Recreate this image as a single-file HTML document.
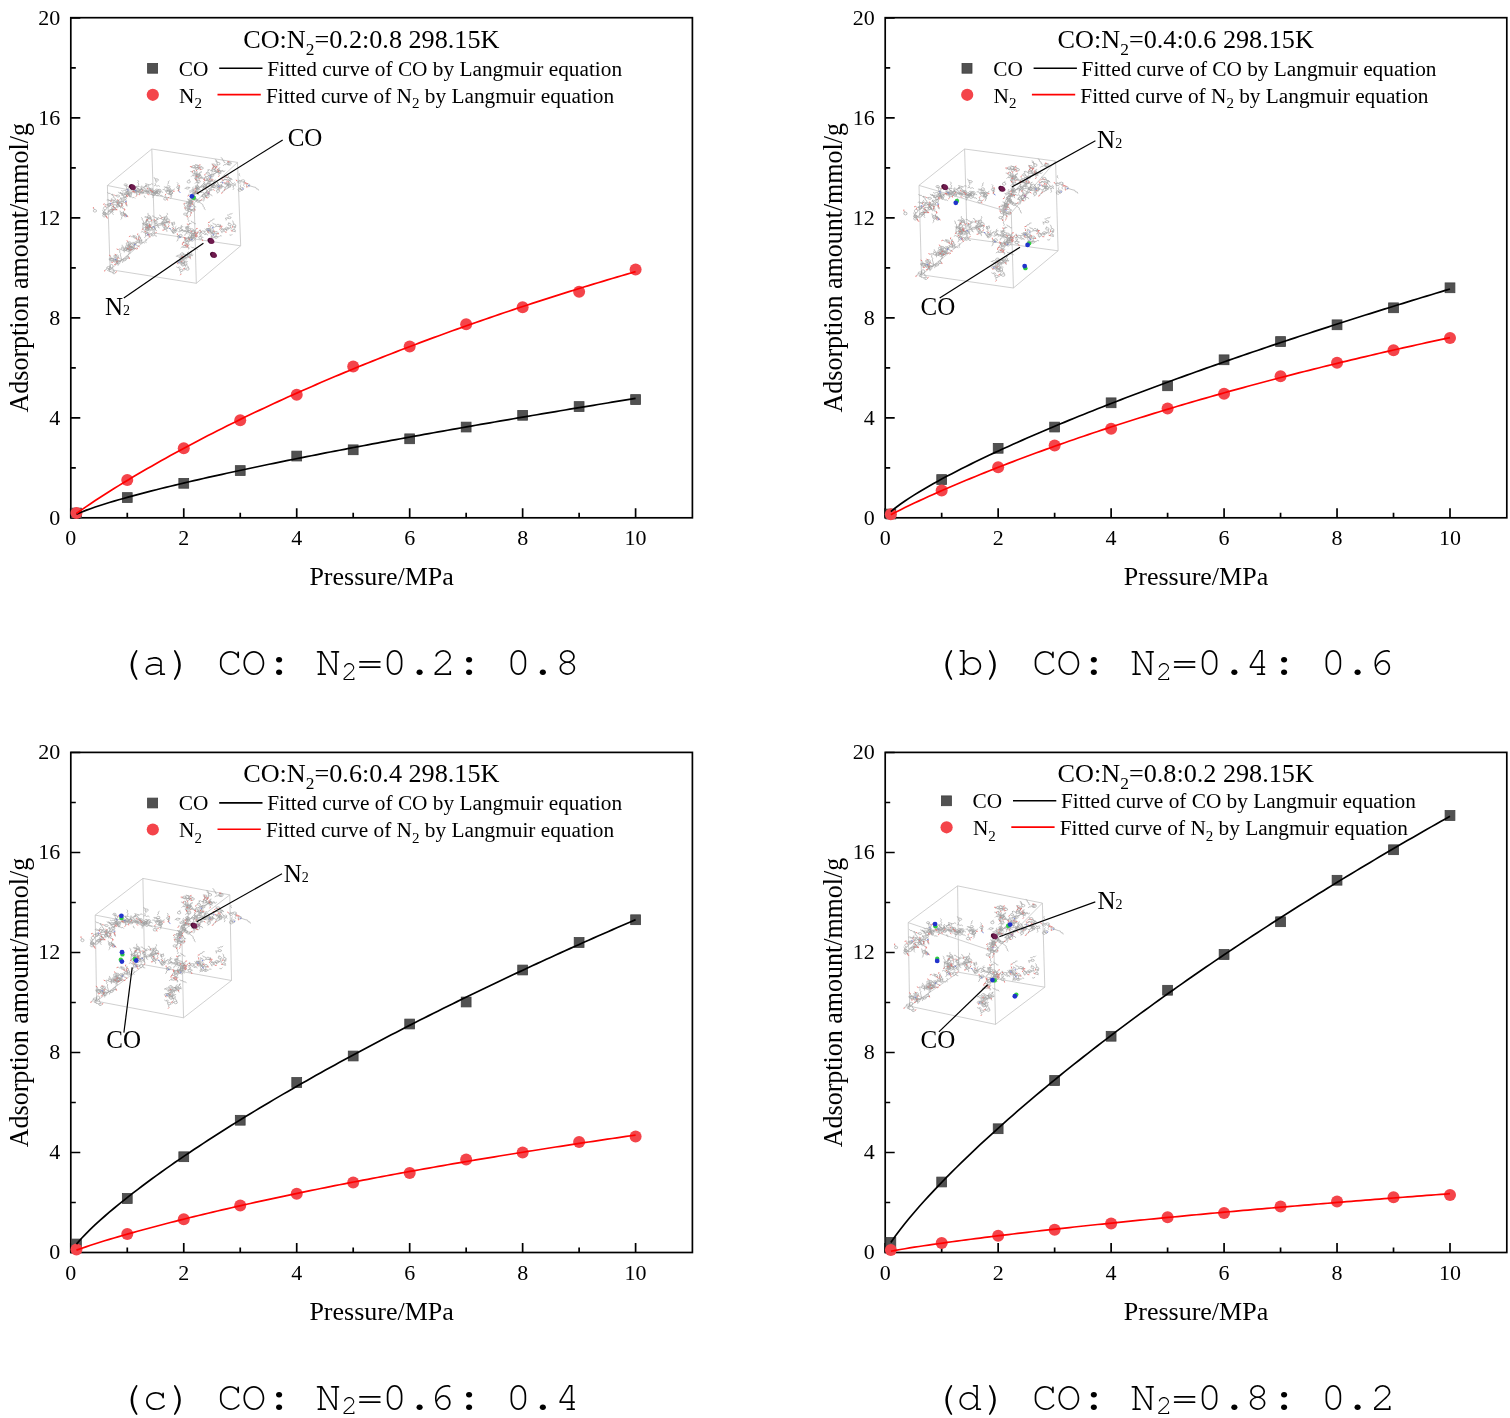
<!DOCTYPE html>
<html><head><meta charset="utf-8"><style>
html,body{margin:0;padding:0;background:#fff;}
svg{display:block;}
</style></head><body>
<svg width="1510" height="1418" viewBox="0 0 1510 1418">
<rect width="1510" height="1418" fill="#fff"/>
<defs><g id="mol" fill="none"><path d="M96.4 211.5 94.9 212.2 93.4 211.5 93.4 210.1 94.9 209.4 96.4 210.1 96.4 211.5M94.9 209.4 93.4 208.6M106 209.7 104.2 209.7 103.3 208.3 104.2 206.8 105.9 206.7 106.8 208.2 106 209.7M106.8 208.2 107.7 206.8 109.4 206.8 110.3 205.4M104.2 209.7 105.1 211.1M106 215.8 105 217 103.3 216.8 102.6 215.5 103.6 214.3 105.3 214.4 106 215.8M103.6 214.3 104.6 213 103.8 211.6 104.8 210.3M105.8 214.1 104.1 214.4 102.8 213.7 103.1 212.6 104.8 212.2 106.1 213 105.8 214.1M103.1 212.6 103.5 211 102.1 210M106.1 214.4 104.7 215.3 103.1 214.6 102.9 213 104.4 212 105.9 212.7 106.1 214.4M104.7 215.3 106.3 216 106.4 217.6M104.4 213.3 104.5 213.7M108.6 214.3 110.2 213.7 110.4 212.1 112.1 211.5 112.3 210M104.5 213.7 108.6 214.3M114.9 209.7 113.2 209.8 112.2 208.9 112.8 207.9 114.6 207.7 115.6 208.6 114.9 209.7M114.6 207.7 113.5 206.5M109.8 210 108.3 210.8 108.4 212.4 106.9 213.2 107 214.8M113.9 208.8 109.8 210M112.1 210.9 113.1 212.2 112.5 213.6 113.6 214.9M109.8 210 112.1 210.9M110.7 204.6 109.7 205.4 108 205.3 107.2 204.4 108.2 203.6 110 203.7 110.7 204.6M110.7 204.6 111.5 206 113.2 206.1M110.2 205.9 108.6 206.2 107.3 205.5 107.7 204.5 109.4 204.2 110.6 204.9 110.2 205.9M107.7 204.5 106 205 104.7 203.9M112.9 210.9 111.7 211.9 110 211.6 109.4 210.5 110.5 209.5 112.3 209.7 112.9 210.9M111.7 211.9 110.6 213.1M112.9 210.9 114 209.7 115.7 210 116.8 208.8M110 211.6 108.3 211.3M109.8 203 110.8 204.3 110 205.7M114 203 112.2 202.9 111.3 204.2M117.9 200.7 118.3 202.3M115.3 200 115.3 198.5 113.8 197.7 113.7 196.1 112.2 195.4 112.2 193.8M117.9 200.7 115.3 200M113.9 201.9 112.2 202.4 110.9 201.4 111.3 200.1 113 199.7 114.3 200.6 113.9 201.9M114.3 200.6 115.6 201.7M111.3 200.1 109.6 200.6 108.3 199.6 106.7 200.1M110.9 201.4 109.6 200.4 108 200.9M115.3 200 112.6 201M112.6 197.7 111.4 198.9 112 200.4M114.9 208.2 113.9 209.7 112.2 209.6 111.4 208 112.4 206.6 114.1 206.7 114.9 208.2M114.9 208.2 115.7 209.7M115.8 201 116.8 202.3 118.6 202.1 119.6 203.3 121.3 203.2M119.2 196.8 117.5 197 116.3 196.3 116.9 195.3 118.6 195.1 119.8 195.8 119.2 196.8M116.9 195.3 115.2 195.7M126.4 202.1 124.8 202.7 123.4 201.8 123.6 200.3 125.3 199.8 126.6 200.7 126.4 202.1M124.8 202.7 126.2 203.7 125.9 205.2 127.3 206.2M121.9 194.6 121 193.2 119.3 193.2 118.4 191.8M126.6 196.2 125.4 197.5 123.7 197.1 123.1 195.5 124.3 194.3 126 194.7 126.6 196.2M123.1 195.5 122.6 194.1 120.9 193.7 120.3 192.2M125.3 192.5 127 192.9 127.4 194.5 129.1 194.9 129.5 196.5 131.1 196.9M131.4 193 130.4 194.1 128.6 194 127.9 192.8 128.9 191.7 130.6 191.9 131.4 193M127.9 192.8 126.9 194.1M128.6 194 126.9 193.9M130.6 191.9 132.4 192M128.6 193 128.3 194.5 126.7 195.1 126.4 196.7 124.8 197.2 124.5 198.8M129.6 192.9 128.6 193M124.8 195 123 195.2 122 194.2 122.7 193.1 124.5 193 125.5 194 124.8 195M122.7 193.1 121 193.3 120 192M124.5 193 126.2 192.9 126.9 191.4 128.7 191.3M123 195.2 121.3 195.3M131.3 195 129.6 195.3 128.4 194.2 129 192.9 130.7 192.6 131.9 193.6 131.3 195M131.3 195 130.8 196.5M129.6 195.3 127.9 195.6M123.7 194.1 130.2 193.9M136.6 190.4 135.6 191.4 133.9 191.3 133.2 190.1 134.2 189 135.9 189.2 136.6 190.4M130.2 193.9 134.9 190.2M128.8 191.2 127.3 191.9 125.8 191.2 125.8 189.8 127.3 189 128.8 189.8 128.8 191.2M127.3 189 128.8 188.3 128.8 186.7M125.8 191.2 124.3 190.4 122.8 191.2 121.3 190.4M127.3 191.9 128.8 192.7 128.9 194.2 130.4 195M129.5 196.9 131.2 196.6 132.4 197.7 134.1 197.4 135.2 198.6M127.3 190.5 129.5 196.9M138.6 192 137.4 193.1 135.7 192.7 135.2 191.3 136.4 190.2 138.1 190.5 138.6 192M135.2 191.3 134.7 189.7 133 189.4M138.6 192 139.8 190.9 141.5 191.3M127.1 189.6 127.6 191.1 126.5 192.3 127.1 193.8 126 195M127.3 185 126.1 185.8 124.4 185.6 123.9 184.6 125 183.8 126.7 184 127.3 185M126.1 185.8 127.9 186.1 128.4 187.6M127.1 189.6 125.6 184.8M136.4 192.2 135 192.9 133.4 192.5 133.1 191.3 134.5 190.6 136.1 191 136.4 192.2M136.4 192.2 137.7 191.2M136.1 191 137.7 191.6 139.1 190.6M141 190.5 139.3 190.2 138.8 188.6 137.1 188.3 136.6 186.8 134.9 186.4M139.3 186.7 138.2 185.4 138.9 184 137.9 182.7 138.6 181.3 137.5 180M136.3 186.3 136.4 187.8 138 188.5 138.1 190.1 139.7 190.8M139.3 186.7 136.3 186.3M135 188.1 133.3 188.1 132.4 186.8 130.6 186.8 129.8 185.4M142.9 190 141.4 189.1 141.6 187.6M142.8 190.9 141.8 191.9 140.1 191.8 139.4 190.7 140.4 189.8 142.1 189.9 142.8 190.9M140.4 189.8 141.4 188.5 140.7 187 141.7 185.8M142.1 189.9 141.4 188.4 142.4 187.2 141.7 185.7M140.2 189 142 189 142.9 190.3 144.7 190.2 145.6 191.6 147.4 191.5M139.8 190.7 138.5 191.6 136.8 191.2 136.5 189.8 137.8 188.9 139.5 189.4 139.8 190.7M139.5 189.4 141.1 189.9 142.5 188.8 144.1 189.4M136.8 191.2 135.2 190.7 133.9 191.7M139.5 193.6 138.2 194.5 136.5 194.1 136.2 192.8 137.5 192 139.2 192.4 139.5 193.6M139.2 192.4 140.8 192.9M136.5 194.1 136.9 195.6M148.3 192.5 146.6 192.6 145.5 191.7 146.1 190.5 147.8 190.3 148.9 191.3 148.3 192.5M148.3 192.5 147.6 193.9M143.3 187.3 145 187.1 145.7 185.6 147.4 185.5M147.2 191.5 143.3 187.3M148.8 185.9 147.6 187 145.9 186.6 145.5 185.1 146.7 184.1 148.4 184.5 148.8 185.9M148.4 184.5 150.1 184.9 151.4 183.8 153.1 184.3M146.7 184.1 145.1 183.6M147.6 187 149.3 187.4 149.7 189 151.4 189.4M143.3 187.3 147.2 185.5M143.5 193.3 141.9 193.8 140.5 193.2 140.5 192.2 142.1 191.7 143.6 192.3 143.5 193.3M143.6 192.3 143.7 190.7M144.3 195.5 144.4 197 145.9 197.8M146.2 191.9 144.5 191.5 143.3 192.7 141.6 192.3 140.4 193.5M148.9 191.8 149 193.4 150.5 194.2M146.2 191.9 148.9 191.8M152.6 189.9 150.9 190.3 149.6 189.6 149.9 188.6 151.5 188.3 152.9 188.9 152.6 189.9M149.9 188.6 148.2 189.2M149.6 189.6 148.2 188.6 146.6 189.2 145.3 188.2M148.9 191.8 151.2 189.3M159.9 186.6 158.5 185.6 156.9 186.2 155.5 185.3 153.9 185.9M155.5 194.7 154.2 195.5 152.5 195 152.3 193.8 153.7 193 155.3 193.5 155.5 194.7M154.2 195.5 152.8 196.5 153 198M153.7 193 152.1 192.4 151.8 190.8M160.1 192.4 158.5 193.2 157 192.2 157.2 190.5 158.7 189.7 160.2 190.7 160.1 192.4M157.2 190.5 155.6 191.2 154.1 190.3 152.6 191M160.1 192.4 161.6 191.7 163.1 192.6M157 192.2 156.9 193.8M153.9 194.3 158.6 191.5M155.9 193.5 155.2 192 153.5 191.8 152.8 190.3 151.1 190.1 150.4 188.7M151.3 192 149.7 192.4 148.3 191.8 148.5 190.8 150.1 190.4 151.5 191 151.3 192M148.3 191.8 146.9 190.9M151.3 192 152.9 191.4 154.3 192.4 155.9 191.8M148.5 190.8 146.9 191.4 145.5 190.5 143.9 191.1M155.9 193.5 149.9 191.4M158.6 180.2 157.5 181 155.7 180.8 155.1 179.8 156.3 178.9 158 179.1 158.6 180.2M156.3 178.9 154.6 178.6 154 177.1M155.7 180.8 156.3 182.3 155.2 183.5 155.8 185M160.6 191.3 158.9 191.5 157.7 190.6 158.3 189.5 160 189.2 161.2 190.1 160.6 191.3M158.9 191.5 160.1 192.7 159.5 194.2M154 195.2 152.2 195.4 151.2 194 151.9 192.4 153.7 192.3 154.7 193.7 154 195.2M153.7 192.3 155.4 192.1 156.2 190.7M154.7 193.7 155.4 192.2 157.2 192.1M157.7 191.7 155.9 191.7 155 190.4 155.9 189.1 157.6 189.1 158.5 190.4 157.7 191.7M157.7 191.7 156.8 193 157.7 194.4M153 193.8 156.8 190.4M158.4 195.6 156.6 195.8 155.6 194.5 156.3 193 158.1 192.9 159.1 194.2 158.4 195.6M159.1 194.2 160.1 195.5 161.9 195.3 162.9 196.6M156.8 190.4 157.4 194.3M167 199.1 166 200.1 164.2 199.9 163.6 198.7 164.6 197.8 166.4 197.9 167 199.1M166.4 197.9 168.1 198.1M164.6 197.8 165.7 196.5 165.1 195.1M169 193.6 167.3 193.7 166.3 192.2 167.1 190.7 168.8 190.6 169.8 192 169 193.6M166.3 192.2 165.3 190.9M167.1 190.7 165.3 190.8 164.4 189.5 162.6 189.6M156.4 193.6 157.1 192.1 156.1 190.8M167.2 184.3 168.6 183.3 168.2 181.7 169.6 180.7M170.2 187.1 169 188 167.3 187.8 166.7 186.6 167.9 185.7 169.6 185.9 170.2 187.1M167.3 187.8 165.6 187.5 164.4 188.7M172.3 193.6 170.6 194.1 169.3 193.1 169.6 191.6 171.3 191.1 172.6 192.1 172.3 193.6M170.6 194.1 171.9 195.1 171.6 196.6M172.5 193.2 171.5 194.6 169.8 194.4 169 192.9 170 191.5 171.7 191.6 172.5 193.2M170 191.5 168.2 191.4 167.5 190 165.7 189.9M171.5 194.6 170.5 195.9 171.3 197.3 170.3 198.6M169 189.5 167.5 190.3 167.6 191.9M170.7 193 169 189.5M168.7 194.6 170.5 194.5 171.3 193.1 173 193M171.2 191.6 171.9 190.2 173.7 190.1 174.4 188.6M168.7 194.6 171.2 191.6M170.2 190.1 168.5 190.2 167.5 189.2 168.2 188.1 170 188 171 189 170.2 190.1M170.2 190.1 172 190 172.9 191.3M168.2 188.1 166.5 188.2 165.5 186.9 163.8 187M171.2 191.6 169.2 189.1M179.2 188.2 177.5 188.4 176.4 187.5 177 186.4 178.7 186.2 179.8 187.1 179.2 188.2M177.5 188.4 178.7 189.6M178.7 186.2 177.5 185 178.1 183.5 177 182.3M179.1 191.8 178.3 190.4 179.4 189.1 178.6 187.6 179.6 186.3M178.1 187.3 179.1 191.8M119.8 203.1 118.7 204 117 203.8 116.3 202.8 117.4 201.8 119.2 202 119.8 203.1M119.8 203.1 120.9 201.8 122.6 202 123.7 200.8M119.2 202 118.5 200.5 119.6 199.3M113.9 195.7 112.9 194.4 111.2 194.5 110.1 193.3 108.4 193.4 107.4 192.1M116.7 206.3 115.8 207.7 114.1 207.6 113.2 206.2 114.1 204.7 115.9 204.8 116.7 206.3M115.9 204.8 117.6 204.8 118.6 203.5M114.1 204.7 112.4 204.7M122.8 203.6 121.1 203.7 120 202.6 120.8 201.3 122.5 201.2 123.5 202.3 122.8 203.6M120.8 201.3 121.5 199.9 120.5 198.6 121.2 197.2M121.1 203.7 122.1 205M122.8 203.6 122.1 205 123.1 206.3 122.4 207.7M121.6 207 122.5 208.4 124.2 208.4M121.8 202.4 121.6 207M116.9 204.1 118.5 204.7 118.8 206.2 120.4 206.8 120.6 208.4M121.6 207 116.9 204.1M120.4 198.8 122.1 199.2 122.6 200.7M116.3 201.5 115.2 202.7 113.4 202.4 112.3 203.5M126.3 199.1 124.9 200 123.3 199.3 123.1 197.7 124.6 196.7 126.1 197.4 126.3 199.1M126.1 197.4 126 195.9M123.1 197.7 121.7 198.6 120.1 197.9M119.7 203.1 118 203.7 116.7 202.6 117 201 118.6 200.4 120 201.5 119.7 203.1M118 203.7 119.4 204.7 119.1 206.2 120.4 207.2M116.7 202.6 115.3 201.6M119.8 206.4 118.2 206.9 116.7 206.3 116.9 205.2 118.4 204.7 119.9 205.3 119.8 206.4M118.2 206.9 116.6 207.6M118.3 202 118.3 205.8M127 206.1 127 204.5M124.1 214.7 122.8 215.8 121.1 215.3 120.7 213.7 122 212.6 123.7 213.1 124.1 214.7M123.7 213.1 123.3 211.6 124.6 210.5M122 212.6 120.4 212.2 120 210.6M122.8 215.8 121.5 216.9 121.9 218.4 120.6 219.5M127.2 215.7 126.3 216.9 124.5 216.8 123.7 215.6 124.6 214.4 126.4 214.4 127.2 215.7M124.6 214.4 125.6 213M123.7 215.6 122.9 214.2 121.1 214.1 120.3 212.7M127.3 216.1 125.7 215.6 125.4 214 123.7 213.5M125.5 215.6 127.3 216.1M123.3 212.2 123.3 213.8 124.8 214.6M127.3 216.1 123.3 212.2M186.8 214.5 185.5 215.2 183.8 214.8 183.6 213.7 185 213 186.6 213.4 186.8 214.5M185.5 215.2 187.1 215.8M187.9 215 187.2 216.5 188.3 217.7 187.7 219.2 188.8 220.4 188.2 221.9M183.6 203.7 184.8 204.9 184.3 206.4M195.3 210.2 194.2 211.3 192.5 211.1 191.9 209.8 193 208.7 194.7 208.9 195.3 210.2M194.7 208.9 194.1 207.4 195.2 206.2M188.5 209.4 187.4 210.4 185.6 210.2 185.1 208.8 186.2 207.8 187.9 208 188.5 209.4M193.6 210 186.8 209.1M192.1 210.2 190.9 211.3 191.4 212.9 190.2 214 190.7 215.5M190.9 210.5 189.5 211.5 187.9 210.8 187.7 209.1 189.1 208.1 190.7 208.8 190.9 210.5M189.5 211.5 191.1 212.1M187.9 210.8 188.1 212.4 186.7 213.3M190.9 210.5 192.3 209.6 193.9 210.2M192.1 210.2 189.3 209.8M189.7 206.5 189 205.1 187.3 204.9M189.3 209.8 189.7 206.5M188.6 207.6 187.1 208.4 185.6 207.8 185.4 206.5 186.9 205.7 188.4 206.3 188.6 207.6M186.9 205.7 188.3 204.8 188.2 203.2 189.6 202.3M189.7 206.5 187 207.1M192.4 202.1 191.3 203.2 189.6 203 188.9 201.7 190 200.6 191.8 200.8 192.4 202.1M191.3 203.2 190.2 204.4 190.9 205.9M187 207.1 190.7 201.9M193.6 196.9 191.9 197.5 190.6 196.4 190.9 194.8 192.5 194.2 193.9 195.3 193.6 196.9M192.5 194.2 194.2 193.7 194.5 192.1 196.1 191.6M189.5 203.5 188.1 204.1 186.5 203.7 186.3 202.7 187.7 202.1 189.3 202.5 189.5 203.5M186.5 203.7 184.9 203.1M189.3 202.5 189.1 201 190.5 200M193.8 205.3 192.7 206.4 191 206.2 190.3 204.8 191.4 203.7 193.2 204 193.8 205.3M191.4 203.7 189.7 203.5 189.1 202M193.8 205.3 194.4 206.7 196.2 207M187.9 203.1 192.1 205.1M192.5 202.4 191.1 203.1 189.4 202.6 189.2 201.5 190.6 200.7 192.2 201.2 192.5 202.4M191.1 203.1 189.7 204.1 189.9 205.6 188.5 206.6M189.2 201.5 187.8 202.4 186.2 201.8M190.6 200.7 189 200.1M189.1 207.6 189.4 209.2 188.2 210.2 188.5 211.8 187.2 212.8 187.6 214.4M189.9 199.9 191.2 200.9 191 202.4 192.4 203.4M191.2 203 190.8 201.5 189.2 201 188.8 199.5 187.1 199M189.6 192.3 191.3 192.2 192.1 190.8 193.9 190.7M192.1 202.9 190.8 203.7 189.1 203.4 188.7 202.3 189.9 201.5 191.6 201.7 192.1 202.9M191.6 201.7 191.1 200.2 192.3 199.1 191.9 197.6M190.8 203.7 192.5 204.1M191.7 194.6 191.7 196.2 190.2 197 190.3 198.6 188.8 199.4 188.8 201M193.8 200.1 192.2 200.5 190.8 199.8 191.2 198.7 192.8 198.3 194.2 199 193.8 200.1M192.8 198.3 194.5 197.8M191.7 194.6 192.5 199.4M194.1 195.7 195.3 196.8 194.9 198.4 196.1 199.5M194.3 195.5 192.7 196 191.3 195.2 191.6 193.9 193.3 193.5 194.6 194.3 194.3 195.5M192.7 196 194 197 193.7 198.5 195 199.5M194.3 195.5 194 197.1M194.6 194.3 194.9 192.7 196.6 192.2 196.9 190.6M195.2 193.2 193.5 193.4 192.4 192.2 193 190.9 194.8 190.7 195.9 191.8 195.2 193.2M193 190.9 193.7 189.4 192.6 188.2 193.3 186.7M189.2 188.3 188 189.1 186.3 188.9 185.7 187.9 186.9 187.1 188.6 187.3 189.2 188.3M185.7 187.9 184.6 189.1M188.6 187.3 190.3 187.6M196 193.7 194.8 194.4 193.1 194.1 192.7 193.1 193.9 192.4 195.6 192.7 196 193.7M196 193.7 197.3 192.6M199.4 187.9 198 188.8 196.4 188.3 196.1 186.9 197.5 186.1 199.1 186.6 199.4 187.9M199.4 187.9 200.8 187 202.4 187.5M198 188.8 196.7 189.8M196.4 188.3 196.7 189.9 195.3 190.9M194.3 193.4 197.8 187.4M197.2 188.8 198.3 190 197.6 191.5 198.7 192.7 198.1 194.2 199.1 195.4M197.8 187.4 197.2 188.8M194.2 188.1 193.4 189.5 191.7 189.6 190.8 191 189.1 191M197.2 188.8 194.2 188.1M200.4 181.9 199.3 182.9 197.6 182.7 196.9 181.6 198 180.6 199.8 180.8 200.4 181.9M197.6 182.7 195.8 182.5 194.8 183.7M198 180.6 196.3 180.4 195.6 178.9M199.8 180.8 199.1 179.3M198.5 186.7 197.1 187.4 195.5 187 195.2 185.9 196.6 185.2 198.2 185.6 198.5 186.7M195.5 187 195.8 188.5M197.1 187.4 198.7 187.9 199 189.5 200.7 190M198.7 181.8 196.8 186.3M198.4 189.8 196.8 190.1 195.5 189.3 196 188.3 197.7 188.1 198.9 188.8 198.4 189.8M196 188.3 196.4 186.8M198.9 188.8 199.4 187.3 201.1 186.9 201.5 185.4M196.8 186.3 197.2 189.1M201.7 176.7 200.8 178 199 178 198.2 176.6 199.1 175.3 200.8 175.3 201.7 176.7M198.2 176.6 197.3 175.3 195.6 175.3 194.7 173.9M201.7 176.7 202.5 178 204.3 178.1 205.1 179.4M200.8 178 202.5 178 203.4 179.4M190.3 182.3 189 183.1 187.3 182.6 187.1 181.2 188.5 180.3 190.1 180.9 190.3 182.3M188.5 180.3 189.9 179.4M198.1 182 196.5 181.3 196.4 179.7 194.8 179 194.7 177.5M205.3 185.9 204.1 187 202.4 186.6 201.9 185.1 203.1 183.9 204.8 184.3 205.3 185.9M204.1 187 202.8 188.2 203.3 189.7 202.1 190.8M205.3 185.9 206.5 184.7M203.1 183.9 204.3 182.8 203.8 181.3M199 175.8 197.4 176.1 196 175.5 196.3 174.5 197.9 174.1 199.3 174.8 199 175.8M196.3 174.5 196.5 172.9M199.3 174.8 199.5 173.2 201.2 172.6 201.4 171.1M198.3 178.9 196.7 179.2 195.3 178.7 195.5 177.7 197.1 177.3 198.5 177.9 198.3 178.9M197.1 177.3 195.7 176.3M195.5 177.7 195.7 176.1M198.5 177.9 198.7 176.3 200.3 175.7 200.6 174.1M194.4 167.8 192.6 167.9 191.7 166.6M197.9 175 198.2 173.4 196.8 172.4 197.1 170.9M196.7 174.9 195.6 176 193.8 175.8 193.2 174.5 194.3 173.3 196 173.5 196.7 174.9M193.8 175.8 192.1 175.6 191 176.8M194.3 173.3 192.6 173.1 191.9 171.6 190.2 171.4M197.9 175 194.9 174.7M194.4 170.3 192.8 170.8M194.9 174.7 194.4 170.3M199.9 176 198.5 176.9 196.9 176.4 196.6 175 197.9 174.1 199.6 174.6 199.9 176M196.9 176.4 197.2 178 195.8 179M199.6 174.6 199.2 173 200.6 172M199.9 176 200.2 177.5 201.8 178.1M194.4 170.3 198.2 175.5M194.8 167.3 193 167.4 192 166.5 192.7 165.6 194.5 165.5 195.5 166.3 194.8 167.3M194.8 167.3 194.1 168.7M192 166.5 191.3 168M195.3 164 196.4 165.3 198.1 165 199.2 166.3 200.9 166 202 167.3M203 168.9 201.4 169.3 200 168.5 200.3 167.4 201.9 167 203.3 167.7 203 168.9M200 168.5 198.7 167.5 197 168.1 195.7 167.1M197.9 167 196.5 168 194.9 167.4 194.6 165.8 196 164.8 197.6 165.4 197.9 167M197.9 167 198.1 168.5 199.7 169.1M198.4 169.2 196.9 169.7 195.4 169.1 195.5 168 197.1 167.5 198.6 168.1 198.4 169.2M197.1 167.5 198.7 166.8 198.8 165.3M197.3 200.5 195.8 201.1 194.3 200.4 194.4 199.1 196 198.5 197.4 199.2 197.3 200.5M196 198.5 194.5 197.6M189 193.7 189 195.3M199.9 201.4 198.8 202.3 197.1 202.2 196.4 201.1 197.4 200.1 199.2 200.3 199.9 201.4M199.2 200.3 200.9 200.5M199.9 201.4 200.9 200.1 202.6 200.3M196.4 201.1 195.7 199.6 194 199.5M203.1 204.8 202.9 206.3 204.3 207.3 204.2 208.8 205.6 209.7M198.1 201.2 203.1 204.8M195.5 197.4 194 198 192.5 197.5 192.4 196.5 193.8 196 195.4 196.4 195.5 197.4M195.5 197.4 195.6 199 197.1 199.7 197.2 201.3M194 198 195.6 198.7M192.4 196.5 192.3 195M198 192.4 199.6 191.8 201 192.7 202.6 192.1 204 193.1M196.9 193 195.4 193.7 193.8 193 193.8 191.6 195.3 190.9 196.9 191.6 196.9 193M196.9 193 196.9 194.6M196.9 191.6 198.4 192.4 199.9 191.6M198 192.4 195.4 192.3M208.2 194.7 206.9 195.8 205.3 195.3 204.9 193.7 206.2 192.6 207.9 193.1 208.2 194.7M205.3 195.3 205.6 196.8 204.3 197.8 204.6 199.4M206.2 191.9 207 193.3 208.8 193.3 209.6 194.7 211.4 194.8 212.2 196.2M203.1 194.5 202.5 196 203.6 197.2 203 198.7 204.1 199.9 203.5 201.4M206.2 191.9 203.1 194.5M209 186.1 207.3 186.3 206.2 185.2 206.7 183.7 208.5 183.5 209.6 184.6 209 186.1M209 186.1 210.7 185.8 211.9 187 213.6 186.7M206.7 183.7 205 184M206.2 185.2 205.6 186.6 203.8 186.9 203.2 188.4M209.1 194 207.4 194.6 206.1 193.5 206.4 191.8 208 191.3 209.4 192.4 209.1 194M206.4 191.8 206.7 190.3 205.4 189.3M209.4 192.4 209.7 190.8 211.3 190.3 211.7 188.8M203.2 188.5 204.2 187.2 203.5 185.8 204.6 184.5 203.9 183.1 204.9 181.8M205.4 196 204.2 197.1 202.5 196.6 202 195.2 203.3 194.1 205 194.5 205.4 196M205.4 196 205.8 197.5M202.5 196.6 200.8 196.2M205 194.5 204.5 193M209.2 196.8 207.9 197.9 206.2 197.4 205.9 195.8 207.2 194.7 208.8 195.3 209.2 196.8M208.8 195.3 208.5 193.7 209.8 192.7M203.7 195.6 207.5 196.3M210 183.8 208.3 184.1 207.1 183.2 207.6 182.1 209.3 181.9 210.5 182.7 210 183.8M209.3 181.9 211 181.5 211.5 180M214.9 187.6 213.2 187.7 212.2 186.4 213 185.1 214.8 185 215.7 186.3 214.9 187.6M214.8 185 213.8 183.7M212.2 186.4 211.3 185.1M208.8 183 214 186.4M210.2 189.1 211.6 190.1 213.2 189.5M206.4 187.3 204.8 187.9 203.5 186.8 203.7 185.2 205.4 184.6 206.7 185.7 206.4 187.3M203.5 186.8 202.1 185.8 200.5 186.4M206.7 185.7 207 184.1 208.7 183.6 209 182M206.4 187.3 206.1 188.9 207.5 189.9 207.2 191.4M210.2 189.1 205.1 186.2M211.8 180.9 210.2 181.5 208.7 180.8 208.8 179.4 210.4 178.7 211.8 179.5 211.8 180.9M211.8 179.5 211.9 177.9M211.8 180.9 213.3 180.2M208.7 180.8 207.3 179.9 205.7 180.6M216.8 188.2 217.9 187 217.2 185.5M211.2 187.1 211.2 188.7 209.7 189.5 209.7 191 208.2 191.8M216.8 188.2 211.2 187.1M215.2 186.5 213.8 187.5 212.2 187 211.9 185.5 213.2 184.5 214.9 185.1 215.2 186.5M213.2 184.5 214.6 183.5M211.2 187.1 213.5 186M214 182.1 214.2 180.5 215.8 179.9M213.5 186 214 182.1M219.2 187.3 217.5 187.6 216.4 186.4 217 185 218.7 184.7 219.8 185.9 219.2 187.3M218.7 184.7 217.5 183.5 218.1 182M219.2 187.3 218.6 188.8M219.8 185.9 220.9 187.1 222.7 186.8M214 182.1 218.1 186.1M219.6 191.4 218.2 192.4 216.6 191.9 216.3 190.4 217.6 189.4 219.3 190 219.6 191.4M219.3 190 219 188.4M218.2 192.4 216.9 193.4M218.1 186.1 217.9 190.9M216.6 181.6 215.1 182.5 213.5 181.8M222.4 186.8 221.4 188 219.6 187.9 218.9 186.5 219.9 185.3 221.7 185.4 222.4 186.8M221.4 188 220.3 189.3M218.9 186.5 218.2 185.1M221.7 185.4 220.9 184M216.6 181.6 220.6 186.7M222.1 182.3 222.5 183.8 221.3 184.9 221.7 186.5 220.4 187.5M221.3 186.3 223 186 224.1 187.3 225.8 187M224.9 184.3 225.2 182.8 226.9 182.3M230.1 183.8 229 184.7 227.3 184.6 226.6 183.5 227.7 182.6 229.4 182.7 230.1 183.8M229 184.7 228 186 228.6 187.4 227.6 188.7M224.9 184.3 228.3 183.6M224.8 189 224.6 190.6 222.9 191.1 222.6 192.7M228.3 183.6 224.8 189M228.5 176.6 227.4 177.5 225.7 177.3 225.1 176.2 226.2 175.2 227.9 175.4 228.5 176.6M228.5 176.6 229.2 178.1 230.9 178.3 231.5 179.8M225.7 177.3 224 177.1M225.1 176.2 224.5 174.7M230.7 185.9 229.1 186.2 227.8 185.4 228.2 184.3 229.9 184 231.2 184.8 230.7 185.9M230.7 185.9 230.3 187.4M230.6 184.9 229.7 185.9 228 185.9 227.1 184.8 228.1 183.9 229.8 183.9 230.6 184.9M228.1 183.9 229 182.5M228 185.9 226.2 185.8M227.1 184.8 226.3 183.4 224.6 183.4M224.5 179 224 180.5 222.3 180.8 221.7 182.3 220 182.6M229.8 181.1 230.4 179.6 229.2 178.4M224.5 179 229.8 181.1M229.2 179.7 227.6 179 226.1 179.9 224.6 179.3 223.1 180.2M229.8 181.1 229.2 179.7M234.9 184.8 234 185.8 232.2 185.8 231.4 184.7 232.4 183.7 234.1 183.8 234.9 184.8M234 185.8 233 187.1 233.8 188.5 232.9 189.9M229.2 179.7 233.2 184.8M230.2 186.1 229.4 187.5 227.6 187.6 226.9 189 225.1 189.1M236 186.3 234.9 185.1 235.5 183.7 234.3 182.5M241.5 190.2 240.3 191.4 238.6 191 238.1 189.4 239.3 188.2 241 188.6 241.5 190.2M239.3 188.2 240.6 187 240.1 185.5 241.3 184.4M244.2 181.2 243.4 182.6 244.3 183.9 243.5 185.3 244.5 186.6M239.5 173.3 239 174.9 240.3 176M232.4 180.1 231.5 178.7 229.7 178.8 228.8 177.5 227 177.6M243.8 188.8 242.7 189.8 241 189.6 240.4 188.4 241.5 187.4 243.2 187.6 243.8 188.8M241 189.6 239.3 189.4M242.7 189.8 241.6 191M241.2 182.2 240.2 183.1 238.5 183 237.7 182.1 238.7 181.2 240.4 181.2 241.2 182.2M238.7 181.2 236.9 181.1M244.5 181.5 242.9 182 241.5 181.3 241.6 180.2 243.2 179.7 244.7 180.3 244.5 181.5M241.6 180.2 240.1 180.8 238.6 179.9M244.5 181.5 244.4 183M249.7 185.9 248.3 186.7 246.7 186.1 246.6 184.7 248 183.8 249.6 184.4 249.7 185.9M246.6 184.7 246.4 183.1M254.1 187.1 255.8 187.4 256.4 188.9 258.1 189.1 258.7 190.6M248.1 185.3 254.1 187.1M215.6 168.8 213.9 169.1 212.7 168.2 213.2 167.1 214.9 166.9 216.1 167.7 215.6 168.8M213.9 169.1 215.1 170.2M213.2 167.1 213.7 165.6M205.5 176.6 207.3 176.7 208.3 175.5 210 175.7 211.1 174.4 212.8 174.6M210.8 170.9 212.2 170 212.1 168.5M209.4 173.3 208.3 174.1 206.6 173.9 206 172.9 207.2 172.2 208.9 172.4 209.4 173.3M207.2 172.2 208.4 171 207.9 169.5M209.4 173.3 210 174.9 211.7 175.2 212.2 176.7M219.1 171.4 217.9 172.2 216.2 172 215.7 170.9 216.9 170 218.6 170.3 219.1 171.4M215.7 170.9 215.2 169.4M218.6 170.3 218.1 168.8 219.3 167.7M206.6 180.4 204.9 180.5 203.9 179.2 204.7 177.8 206.5 177.7 207.4 179 206.6 180.4M206.6 180.4 208.3 180.3 209.3 181.6 211 181.6M204.7 177.8 205.5 176.4 204.6 175.1M210.8 177.4 209.1 177.8 207.8 177 208.1 175.7 209.8 175.3 211.1 176.1 210.8 177.4M210.8 177.4 210.4 178.9M209.6 181.4 207.9 181.5 206.9 180.2 207.6 178.8 209.4 178.7 210.4 180 209.6 181.4M210.4 180 211.4 181.3 213.1 181.1M207.6 178.8 205.9 178.9M217.6 171.3 219.1 170.4 220.6 171.1 222.1 170.3 223.6 171M213.9 175.9 212.5 176.8 210.9 176.2 210.6 174.7 212 173.8 213.6 174.4 213.9 175.9M210.9 176.2 211.1 177.8 209.7 178.7M217.6 171.3 212.3 175.3M220.5 171.5 219.5 172.7 217.8 172.6 217 171.4 218 170.2 219.7 170.3 220.5 171.5M217.8 172.6 216 172.5 215.1 173.9 213.3 173.8M219.7 170.3 218.9 168.9 219.9 167.5M219.5 172.7 218.6 174 219.3 175.5M215.1 171.3 213.5 171.8 212.1 171.1 212.3 169.9 213.9 169.4 215.3 170.1 215.1 171.3M212.1 171.1 211.9 172.7M212.3 169.9 210.7 170.5 209.3 169.6 207.7 170.2M213.9 169.4 215.5 168.7 215.7 167.2M216.3 172.1 217.6 171.1M213.7 170.6 216.3 172.1M215.7 165.1 214.7 165.9 213 165.8 212.2 164.9 213.3 164.1 215 164.2 215.7 165.1M213.3 164.1 211.5 163.9M214.7 165.9 216.4 166 217.1 167.5M213 165.8 213.7 167.2 212.6 168.5M221 172.2 219.7 173.2 218 172.7 217.7 171.3 219 170.4 220.6 170.8 221 172.2M219.7 173.2 221.3 173.7M221 172.2 222.3 171.2 223.9 171.7 225.3 170.6M220 164.2 218.6 164.9 217 164.4 216.9 163.1 218.3 162.4 219.9 162.9 220 164.2M217 164.4 217.2 165.9 215.7 166.8M216.9 163.1 216.7 161.5 215.1 160.9M218.3 162.4 216.7 161.7 216.5 160.1 214.9 159.5M225.5 162.9 223.9 162.2 223.9 160.6 222.3 159.9 222.3 158.3 220.7 157.5M231.4 164 230.2 165.2 228.5 164.8 228 163.1 229.3 161.9 231 162.3 231.4 164M228 163.1 227.6 161.6M228.5 164.8 226.8 164.4M230.4 163.6 229.4 164.8 227.7 164.7 226.9 163.4 227.8 162.1 229.6 162.2 230.4 163.6M226.9 163.4 225.9 164.7 224.2 164.6 223.2 165.9M229.7 163.6 228.6 163.5M107.5 270.5 108.5 269.3 110.3 269.4 111.3 268.2M114.8 273.7 113.1 273.7 112.2 272.7 113 271.8 114.7 271.7 115.7 272.7 114.8 273.7M107.5 270.5 113.9 272.7M113 267 111.5 267.9 110 267 109.9 265.3 111.4 264.4 113 265.2 113 267M110 267 110 268.6 108.6 269.4M111.5 267.9 113.1 268.6 113.1 270.2 114.7 270.9M109.8 268.1 108.2 268.5 106.8 267.9 107.1 266.9 108.8 266.5 110.1 267.2 109.8 268.1M106.8 267.9 106.6 269.4 104.9 270M110.1 267.2 110.4 265.6M108.2 268.5 109.6 269.5 109.3 271.1 110.6 272M113.7 260.1 112.2 260.8 110.7 260.1 110.7 258.9 112.2 258.2 113.7 258.8 113.7 260.1M110.7 260.1 109.1 259.4M113.7 260.1 113.7 261.7 115.2 262.5M112.2 258.2 110.6 257.5 110.6 255.9M113 259.9 112.1 261.1 110.4 261 109.5 259.8 110.5 258.6 112.2 258.7 113 259.9M112.1 261.1 111.2 262.4M116.5 256.9 114.7 257.1 113.6 256.3 114.2 255.3 115.9 255.1 117 255.9 116.5 256.9M117.8 263.6 116.7 262.4M116.2 259.7 114.6 260.3 113.2 259.6 113.2 258.4 114.8 257.8 116.3 258.5 116.2 259.7M113.2 258.4 111.7 259.1 110.2 258.3 108.7 259M117.8 263.6 114.7 259M119.4 263.9 117.7 264 116.6 262.9 117.3 261.6 119.1 261.4 120.1 262.6 119.4 263.9M116.6 262.9 115.9 264.3M119.1 261.4 120.8 261.2 121.5 259.8 123.2 259.6M114.7 259 118.4 262.7M117 261.8 116.8 263.3 118.2 264.2 118 265.8M118.4 262.7 117 261.8M121.5 260.8 120 261.5 118.5 260.6 116.9 261.4 115.5 260.5M116.7 261.1 115 261.4 113.8 260.6 114.3 259.7 116 259.4 117.2 260.2 116.7 261.1M116 259.4 117.7 259.1M113.8 260.6 113.2 262.1M115 261.4 116.1 262.5 115.6 264M121.5 260.8 115.5 260.4M120.3 254.9 120.7 253.4 119.5 252.2 120 250.7 118.8 249.6M121.8 259.9 123.5 260.2 124.6 258.9 126.3 259.2 127.4 257.9 129.2 258.2M120.3 254.9 121.8 259.9M118 257.6 116.3 258 115.1 256.7 115.6 255.1 117.4 254.7 118.5 255.9 118 257.6M116.3 258 117.5 259.1 117 260.6 118.2 261.8M121.8 259.9 116.8 256.3M126 260.3 124.4 260.8 123 260 123.3 258.7 124.9 258.3 126.3 259.1 126 260.3M124.4 260.8 122.7 261.3 122.5 262.9M129.1 257.4 127.9 258.1 126.2 257.9 125.7 257 126.9 256.2 128.6 256.5 129.1 257.4M128.2 256.8 127.8 255.2 129.1 254.2 128.8 252.6M124.2 249.6 122.7 250.2 121.2 249.6 121.2 248.5 122.7 247.9 124.2 248.4 124.2 249.6M122.7 247.9 121.1 247.1M122.7 250.2 124.3 250.9 124.3 252.5M121.2 249.6 119.7 248.9 118.2 249.7M131.1 250.3 129.4 250.2 128.7 248.7 126.9 248.6 126.2 247.1M127.1 249.8 125.7 250.6 124.1 250 124 248.6 125.4 247.8 127 248.4 127.1 249.8M124 248.6 123.8 247 122.3 246.3 122.1 244.8M131.1 250.3 125.6 249.2M131.7 249.9 130.6 250.8 128.8 250.6 128.2 249.6 129.4 248.8 131.1 249 131.7 249.9M131.1 249 132.8 249.2M131.7 249.9 132.8 248.7 134.5 249M130.6 250.8 129.5 252M125.6 249.2 130 249.8M132.6 249.9 130.9 250 129.9 248.7 130.6 247.3 132.4 247.2 133.4 248.5 132.6 249.9M132.4 247.2 134.1 247M130 249.8 131.6 248.6M134.6 247.6 133.1 248.2 131.5 247.7 131.5 246.6 132.9 246 134.5 246.5 134.6 247.6M134.5 246.5 134.4 244.9 135.9 244.1M131.6 248.6 133 247.1M128.7 247.5 127.1 248.3 125.6 247.5 125.7 245.8 127.2 245 128.7 245.9 128.7 247.5M128.7 245.9 130.2 246.7 131.7 245.9M125.6 247.5 125.6 249 124.1 249.8 124.1 251.4M133 247.1 127.2 246.7M130.4 247 129.2 248 127.5 247.7 127 246.3 128.2 245.3 129.9 245.6 130.4 247M129.2 248 128 249.2M129.7 250.5 128.3 251.5 126.7 250.9 126.4 249.3 127.8 248.3 129.4 248.9 129.7 250.5M129.4 248.9 129.1 247.3M128.3 251.5 129.9 252.1 130.2 253.6M126.7 250.9 125 250.3M129 244.8 127.3 245.1 126.1 244.1 126.6 242.8 128.3 242.5 129.5 243.5 129 244.8M129 244.8 128.5 246.3 129.7 247.4M133.4 248.9 131.9 249.5 130.4 248.7 130.5 247.1 132.1 246.4 133.6 247.3 133.4 248.9M133.4 248.9 135 248.2 136.5 249.1M127.8 243.8 132 248M131.7 243.5 130.6 244.6 128.9 244.4 128.2 243.1 129.3 242 131 242.2 131.7 243.5M129.3 242 127.6 241.7M131.7 243.5 132.8 242.3 134.5 242.5 135.6 241.2M130.6 244.6 129.5 245.9M132 248 130 243.3M135.9 244.4 135 245.3 133.3 245.2 132.4 244.3 133.4 243.4 135.1 243.4 135.9 244.4M135.1 243.4 136.9 243.5M135.9 244.4 136.7 245.7 138.5 245.8M130 243.3 134.2 244.3M139.8 242.1 138.3 242.8 136.8 242.2 136.7 240.8 138.2 240 139.8 240.7 139.8 242.1M139.8 240.7 139.7 239.1 141.2 238.3M138.2 240 136.7 239.3 136.6 237.7M134.2 244.3 138.3 241.4M133.1 245.6 134.7 244.9 134.8 243.4 136.3 242.6M141.9 243 140.3 243.6 138.9 242.8 139.1 241.4 140.7 240.8 142.1 241.6 141.9 243M140.7 240.8 142.3 240.2M139.1 241.4 139.3 239.8M141.9 243 143.5 242.4 145 243.3M138.6 239.4 138.5 237.9M139.4 238.7 138.2 237.6 138.7 236 137.5 234.9M132.6 235.3 134.2 235.8 134.5 237.4 136.1 238M145.7 238.9 146.5 240.3 145.6 241.7 146.4 243.1M146 229.3 144.6 230.1 143 229.6 142.8 228.3 144.2 227.5 145.8 228 146 229.3M145.8 228 145.6 226.4 147 225.5M141.7 241.9 140 242.5 138.6 241.6M136.3 237.7 134.7 238.2 133.3 237.5 133.5 236.3 135.1 235.8 136.5 236.5 136.3 237.7M133.5 236.3 131.9 236.9 130.4 236M147.6 232.1 147.8 233.6 149.3 234.3 149.5 235.9M148.6 234.9 147.2 235.7 145.6 235.1 145.4 233.7 146.8 232.9 148.4 233.5 148.6 234.9M145.6 235.1 145.7 236.7 144.3 237.6M148.6 234.9 148.8 236.4M145.9 233.7 146 232.1M139.2 234.7 139 236.3 140.5 237.2 140.3 238.8 141.8 239.7 141.6 241.2M146.3 224.7 144.7 225.4 143.2 224.6 143.3 223.2 144.8 222.6 146.3 223.3 146.3 224.7M144.8 222.6 146.4 221.8 146.4 220.2M146.3 224.7 147.8 224M146.3 223.3 146.4 221.7 147.9 221M148.7 226.1 146.9 226.3 145.9 225.2 146.6 224.1 148.3 223.9 149.4 225 148.7 226.1M145.9 225.2 144.8 224 143.1 224.1 142.1 222.9M146.6 224.1 144.8 224.3 143.8 223M144.8 224 147.6 225.1M150.8 230.7 149.2 231 147.9 230.4 148.2 229.3 149.8 229 151.2 229.7 150.8 230.7M148.2 229.3 148.5 227.8 147.2 226.8 147.5 225.2M151.2 229.7 152.5 230.7M149 229.9 147.3 230.5 146 229.6 146.2 228.1 147.9 227.6 149.2 228.5 149 229.9M149.2 228.5 149.5 227M146 229.6 145.7 231.1M149.5 230 147.6 229M152.2 223.4 151 224.5 149.3 224 148.9 222.4 150.2 221.3 151.8 221.7 152.2 223.4M148.9 222.4 148.5 220.9 146.8 220.4 146.4 218.9M151 224.5 149.7 225.6 150.1 227.1 148.8 228.2M149 225.1 149.1 226.7 147.6 227.5 147.7 229.1 146.2 230M145.1 226.8 146.4 225.7 148 226.2 149.3 225.1 151 225.6 152.3 224.5M156.4 225.8 155.2 224.6 155.8 223.1 154.7 221.9 155.2 220.4M155.8 230.3 155 228.9 155.9 227.6 155 226.2M152 216 153.8 216.1 154.6 217.5 156.3 217.6 157.1 219M156.2 221.3 154.4 221.3 153.6 220 151.8 220 150.9 218.6 149.2 218.6M156.4 219.2 158.2 219.5 159.3 218.3 161 218.6M151.1 218.6 149.5 219.1 148.1 218.4 148.3 217.3 149.9 216.8 151.3 217.5 151.1 218.6M148.3 217.3 146.7 217.9 145.2 217M151.1 218.6 150.9 220.2M148.1 218.4 147.9 220 146.3 220.6 146.1 222.2M150.4 217.8 148.8 218.4 147.4 217.5 147.6 216 149.2 215.4 150.6 216.3 150.4 217.8M149.2 215.4 147.8 214.5 148.1 212.9M147.4 217.5 146 216.5 144.4 217.1M148.8 218.4 147.2 219 147 220.6 145.3 221.2M149.7 217.9 149 216.9M149.2 226 150.2 227.3 151.9 227.3 152.8 228.6M143.5 220.9 142.1 219.9 142.4 218.4 141 217.4M142.8 227.3 143.1 228.8M143.5 220.9 142.8 227.3M144.1 232.2 145 233.5 146.8 233.4 147.7 234.7M148.7 226.7 147.5 227.9M147.6 227.3 148.1 228.8 149.8 229.2M148.7 226.7 147.6 227.3M146.8 232.2 145.3 231.5 143.8 232.3 142.3 231.5 140.8 232.3M147.6 227.3 146.8 232.2M154.6 234.6 153.5 236 151.8 235.8 151.1 234.3 152.1 232.8 153.8 233 154.6 234.6M151.1 234.3 150.1 235.5M154.6 234.6 155.3 236 157 236.2M153.8 233 155.6 233.2M146.8 232.2 152.8 234.4M148.5 227.7 146.7 227.8 145.8 226.8 146.6 225.7 148.3 225.6 149.3 226.6 148.5 227.7M148.3 225.6 147.3 224.3 148.1 222.9M154.1 229.4 152.4 229.7 151.3 228.4 151.9 226.9 153.6 226.7 154.7 227.9 154.1 229.4M152.4 229.7 153.5 230.9 152.8 232.3M147.5 226.7 153 228.2M147 226.5 145.7 227.5 146.1 229.1 144.8 230.1M153 228.2 147 226.5M156.3 225.1 157.9 225.7 158 227.3 159.6 228M157 222.9 155.4 223.6 154 222.7 154.1 221.1 155.7 220.4 157.1 221.3 157 222.9M157 222.9 156.8 224.4 158.3 225.3 158.1 226.9M155.7 220.4 157.3 219.7 157.4 218.1 159 217.4M154.1 226 154.1 227.5 155.5 228.4 155.5 230 156.9 230.8M153 226.7 151.6 227.6 151.8 229.2M154.1 226 153 226.7M164.8 228.5 164.2 230M164.7 219 163.3 219.7 161.7 219.3 161.3 218.3 162.6 217.6 164.3 217.9 164.7 219M162.6 217.6 161 217.1 160.6 215.5 159 215M164.7 219 165 220.5 166.7 221 167 222.5M165.2 222.7 163.7 223.4 162.2 222.8 162.1 221.5 163.5 220.8 165.1 221.4 165.2 222.7M163.7 223.4 162.3 224.3 162.4 225.8M162.2 222.8 162.3 224.4 160.8 225.2M168.1 226.8 167.1 228.1 165.4 228 164.4 229.4M165.9 226.9 164.4 227.7 162.9 226.9 162.9 225.3 164.4 224.5 166 225.3 165.9 226.9M164.4 224.5 166 223.7 166 222.2 167.5 221.4M161.3 224.5 160.3 225.3 158.5 225.2 157.8 224.3 158.9 223.5 160.6 223.6 161.3 224.5M157.8 224.3 156.8 225.6 155 225.4 154 226.7M164.4 223.3 163.1 223.9 161.4 223.6 161.1 222.5 162.5 221.9 164.1 222.2 164.4 223.3M163.1 223.9 164.7 224.5M162.5 221.9 163.9 220.9 163.6 219.3 164.9 218.3M164.4 223.3 165.8 222.3 167.4 222.8 168.8 221.8M159.6 224.4 162.8 222.9M168.7 221.6 169.4 223.1 168.4 224.4 169.1 225.8M162.8 222.9 168.7 221.6M169.7 220.7 168.6 221.9 166.9 221.6 166.3 220.1 167.5 218.9 169.2 219.3 169.7 220.7M167.5 218.9 165.8 218.6 165.2 217.1 163.5 216.8M166.9 221.6 167.4 223.1M168.7 221.6 168 220.4M167.5 218.6 166.4 219.9 164.6 219.5 164.1 218 165.2 216.7 167 217 167.5 218.6M167 217 166.4 215.5 167.6 214.4 167 212.9M169.4 228.3 171 229.1 171 230.6 172.5 231.4 172.5 233 174.1 233.7M167 228.8 165.5 229.5 164 228.7 164 227.3 165.5 226.6 167 227.3 167 228.8M167 228.8 168.5 228 170 228.8M165.5 229.5 167 230.3 166.9 231.9M165.5 226.6 164 225.8 164.1 224.2M174.9 224.1 173.6 224.9 171.9 224.6 171.5 223.5 172.8 222.7 174.5 223 174.9 224.1M174.5 223 174.1 221.5M171.5 222.5 172.7 223.6 172.2 225.2 173.4 226.3 172.9 227.8M173.2 223.8 171.5 222.5M176.2 232 174.8 233 173.2 232.5 172.8 231 174.1 229.9 175.8 230.4 176.2 232M175.8 230.4 177.5 230.9M174.1 229.9 175.5 228.9 175.1 227.3 176.4 226.3M178.8 227.7 180.6 227.9 181.6 226.6 183.3 226.8M174.5 231.5 178.8 227.7M174.5 232.1 172.8 232.3 171.7 231.2 172.3 229.9 174.1 229.7 175.2 230.8 174.5 232.1M172.3 229.9 173 228.4 171.9 227.2M178.8 227.7 173.4 231M181.5 271.2 180.5 272.5 181.2 274M188.9 269.8 187.3 270.3 185.9 269.5 186.2 268.2 187.8 267.7 189.2 268.5 188.9 269.8M185.9 269.5 184.5 268.5M180.8 267.8 179.3 266.9 177.7 267.6 176.3 266.8M182.9 270.9 181.4 271.5 179.8 271 179.7 269.8 181.2 269.2 182.8 269.7 182.9 270.9M179.7 269.8 179.6 268.3 178.1 267.6M183.7 270.5 185 269.3 184.5 267.8 185.7 266.7 185.3 265.2M178.9 262.8 177.2 262.8 176.3 261.7 177.2 260.6 178.9 260.6 179.8 261.7 178.9 262.8M178.9 260.6 180.7 260.6 181.6 259.2 183.3 259.2M184.9 262.4 183.8 263.4 182.1 263.2 181.5 261.9 182.6 260.9 184.4 261.1 184.9 262.4M184.9 262.4 186.1 261.2 187.8 261.5M183.8 263.4 182.7 264.6 183.2 266.1M184.3 265.5 182.7 266.1 181.3 265.3 181.4 263.9 183 263.4 184.5 264.2 184.3 265.5M181.4 263.9 181.6 262.4 180.2 261.5M184.3 265.5 185.9 264.9M186.9 264.3 185.4 265.1 183.9 264.3 183.9 262.8 185.4 262.1 186.9 262.8 186.9 264.3M186.9 264.3 186.9 265.9 188.4 266.7 188.4 268.3M181.4 261.9 180.4 263.2 178.6 263 177.9 261.7 178.9 260.5 180.6 260.6 181.4 261.9M185.4 263.6 179.6 261.8M182.5 259.2 180.8 259.4 179.7 258.3 180.3 257 182.1 256.8 183.1 257.9 182.5 259.2M180.3 257 178.6 257.2 177.5 256 175.8 256.2M186.2 258.2 184.6 258.8 183.1 258.2 183.1 257.1 184.7 256.5 186.2 257.1 186.2 258.2M183.1 258.2 181.6 257.4 180.1 258.2M186.2 257.1 187.7 257.9 189.2 257.1M186.2 258.2 186.1 259.8M181.4 258.1 184.6 257.6M184.4 262.2 182.7 262.5 181.6 261.2 182.2 259.7 183.9 259.4 185 260.7 184.4 262.2M181.6 261.2 180.5 260M187.4 257.2 185.8 257.9 184.3 257.1 184.4 255.6 185.9 254.8 187.4 255.6 187.4 257.2M184.4 255.6 182.8 256.3 181.3 255.5 179.8 256.3M185.9 254.8 187.4 254.1 187.5 252.5 189 251.8M184.3 257.1 182.8 256.3M183.3 261 185.9 256.4M180.5 259.7 179.9 261.2 181 262.4 180.5 263.9 181.6 265M184 254 183.1 255.1 181.3 255.1 180.5 253.9 181.4 252.8 183.1 252.8 184 254M180.5 253.9 179.6 255.3 177.8 255.2 176.9 256.6M190.1 255.8 188.5 256.4 187.1 255.6 187.2 254.3 188.8 253.7 190.3 254.5 190.1 255.8M190.3 254.5 191.7 255.4 193.3 254.8M188.8 253.7 190.4 253.1 190.6 251.5 192.2 250.9M187.2 254.3 185.6 254.9M182.2 253.9 188.7 255M190.5 256.6 188.7 256.7 187.7 255.8 188.4 254.8 190.2 254.7 191.2 255.6 190.5 256.6M190.5 256.6 189.8 258 190.8 259.3M188.7 256.7 187 256.8M187.7 255.8 186.7 254.5M188.7 255 189.4 255.7M189.3 248.5 188.6 247.1 186.9 246.9 186.2 245.4M192.7 255.9 191.5 254.8 191.9 253.3 190.7 252.2 191.1 250.7M184.9 246.2 186.2 247.3M191 246.5 192 247.8 193.8 247.6 194.8 248.9 196.6 248.7 197.6 250M188.6 249.5 188.7 248 187.3 247 187.5 245.5M187.6 241.4 187.3 239.9 185.6 239.4 185.3 237.8M188.4 243.6 186.8 244.1 185.4 243.3 185.7 242 187.3 241.5 188.7 242.3 188.4 243.6M185.7 242 185.9 240.4 184.6 239.4M186.8 244.1 188.2 245.1M185.4 243.3 184.1 242.3M186.3 246.5 185.2 247.5 183.5 247.3 182.9 246.1 184 245.1 185.7 245.3 186.3 246.5M183.5 247.3 181.8 247 180.6 248.2M187.1 242.8 184.6 246.3M184.8 235.8 185 234.2 186.6 233.5 186.7 232 188.3 231.3 188.5 229.7M186.4 241.6 187.8 240.7 189.4 241.4 190.9 240.6 192.4 241.3 193.9 240.4M185.3 238.7 185.3 240.3 183.8 241.1 183.8 242.7 182.3 243.5M186.4 241.6 185.3 238.7M186.6 244.1 188 245.1 189.6 244.5M189.1 234 189.5 235.5 188.3 236.6 188.7 238.2M186.4 229 186.4 227.5 188 226.7 188 225.2 189.6 224.4 189.6 222.8M182.2 236.2 180.9 237.2 179.3 236.8 178.9 235.3 180.1 234.3 181.8 234.7 182.2 236.2M178.9 235.3 177.6 236.4M180.7 237.3 179.3 237.8 177.7 237.4 177.6 236.3 179 235.7 180.6 236.2 180.7 237.3M179 235.7 177.4 235M179.3 237.8 177.8 238.7 177.9 240.3 176.5 241.2M192.1 238.7 190.8 239.7 189.1 239.3 188.7 237.7 190 236.7 191.7 237.1 192.1 238.7M189.1 239.3 189.5 240.8 188.2 241.9M191.7 237.1 191.3 235.6 192.6 234.5 192.2 233M188.7 237.7 187.4 238.8 185.8 238.3M182.8 230.6 181 230.5 180.1 231.8 178.3 231.7M185.2 226.5 186.3 227.7 188 227.4 189.2 228.6 190.9 228.3M189.1 237.2 188.4 238.6M182.6 229.9 181.5 230.8 179.7 230.6 179.2 229.5 180.3 228.6 182 228.9 182.6 229.9M180.3 228.6 181.5 227.5 180.9 226 182 224.8M182.6 229.9 183.2 231.4M188.2 231.1 187.1 231.9 185.4 231.7 184.8 230.8 185.9 230 187.6 230.2 188.2 231.1M188.2 231.1 188.8 232.6 190.5 232.9 191.1 234.4M187.1 231.9 188.8 232.2M185.4 231.7 183.7 231.4 182.5 232.6M180.9 229.7 186.5 231M188.8 228 187.9 229.3 186.1 229.2 185.3 227.9 186.2 226.6 188 226.7 188.8 228M188 226.7 189.7 226.7M188.7 230.2 190.2 231.1 190.1 232.6 191.6 233.5 191.5 235.1 193 235.9M187.1 228 188.7 230.2M191.5 223.7 189.8 223.3 188.5 224.4M193.8 237.8 192.1 238.2 190.8 237.1 191.3 235.7 192.9 235.3 194.2 236.3 193.8 237.8M192.9 235.3 194.6 234.9M191.3 235.7 191.7 234.2M196.5 234.6 195.6 235.8 193.8 235.8 193 234.5 193.9 233.3 195.6 233.3 196.5 234.6M195.6 233.3 197.4 233.4M193.9 233.3 194.8 231.9 194 230.6M195.6 235.8 197.3 235.9 198.1 237.2M192.5 236.7 194.7 234.5M195 232.9 193.7 233.8 192.1 233.4 191.7 232.1 192.9 231.2 194.6 231.6 195 232.9M191.7 232.1 190.4 233.2 188.7 232.7 187.4 233.8M193.7 233.8 195.4 234.2M196.6 237.1 195.6 238 193.9 237.9 193.1 236.9 194.1 236.1 195.9 236.2 196.6 237.1M195.6 238 194.6 239.3 195.3 240.7M194.1 236.1 195.2 234.8 194.4 233.3M193.1 236.9 192.4 235.5 190.7 235.4M187.9 240.1 189.5 239.4 189.6 237.9 191.2 237.2 191.4 235.6M192.7 237.5 191.1 237 189.7 238 188.1 237.5 186.8 238.5 185.1 238M192.6 239.8 191.3 240.7 189.6 240.3 189.3 238.9 190.6 238 192.3 238.4 192.6 239.8M189.3 238.9 188.9 237.4M193.2 238.6 192.2 239.5 190.5 239.4 189.7 238.5 190.7 237.6 192.5 237.7 193.2 238.6M192.5 237.7 194.2 237.8 195.2 236.5M193.7 229.9 192.6 230.7 190.8 230.6 190.2 229.6 191.3 228.8 193 229 193.7 229.9M190.2 229.6 189.1 230.9 187.4 230.6 186.3 231.9M194.4 233 192.7 233.3 191.5 232.3 192 230.9 193.8 230.6 194.9 231.6 194.4 233M194.4 233 196.1 232.6M193.8 230.6 195.5 230.3 196 228.8M202 238.1 200.7 239 199.1 238.6 198.7 237.3 200 236.5 201.7 236.9 202 238.1M200 236.5 201.4 235.4 201 233.9M201.7 236.9 203.4 237.4M200.7 239 202.4 239.5M201.5 231.9 200.5 233 198.8 232.9 198 231.7 199 230.6 200.7 230.7 201.5 231.9M200.5 233 199.5 234.3 200.3 235.7 199.3 237M200.7 230.7 200 229.3M196 223.8 194.3 223.7 193.5 222.3 191.8 222.1 191.1 220.7M196.7 234.5 195.4 235.4 193.7 235.1 193.3 233.8 194.6 232.9 196.3 233.3 196.7 234.5M194.6 232.9 195.9 231.8 195.5 230.3M196.3 233.3 197.9 233.7M209 230.6 207.3 230.8 206.1 229.9 206.6 228.7 208.4 228.5 209.5 229.4 209 230.6M209 230.6 210.7 230.3M206.1 229.9 204.9 228.7M204.6 232.3 203.5 233.3 201.8 233.1 201.1 231.9 202.2 230.9 203.9 231.1 204.6 232.3M203.9 231.1 205.7 231.3 206.7 230 208.4 230.2M204.6 232.3 205.3 233.7 207 233.9 207.7 235.4M200.3 233.1 200.8 231.6M203.3 233.4 204.5 234.6 206.2 234.4M214.4 233.7 212.7 234 211.6 232.9 212.1 231.5 213.8 231.2 215 232.3 214.4 233.7M212.7 234 213.9 235.2M210 233 208.3 233.2 207.2 232 207.9 230.6 209.6 230.5 210.7 231.6 210 233M210 233 211.8 232.8 212.8 234M210.7 231.6 211.8 232.9 213.5 232.7M209.6 230.5 208.6 229.2 209.2 227.7M207.8 224.1 209.1 225.1M214.3 234.8 213.1 236 211.4 235.6 210.8 234.1 212 232.8 213.7 233.2 214.3 234.8M211.4 235.6 211.9 237.1 210.7 238.3M213.4 228.1 211.9 229 210.3 228.2 210.3 226.5 211.8 225.6 213.4 226.4 213.4 228.1M211.8 225.6 210.3 224.8M210.1 237.3 211.6 236.5 213.1 237.2 214.6 236.4 216.2 237.2M210.5 230.2 209.5 231.5 207.8 231.4 207 230 208 228.6 209.8 228.7 210.5 230.2M209.5 231.5 211.3 231.6M208 228.6 206.3 228.5M213.5 231.7 212 232.2 210.5 231.7 210.4 230.7 211.9 230.1 213.4 230.6 213.5 231.7M213.4 230.6 213.4 229.1M210.4 230.7 210.4 229.1 208.8 228.4M217.7 237.5 216.5 238.3 214.8 238.1 214.3 237 215.4 236.2 217.1 236.5 217.7 237.5M214.3 237 213.1 238.2 211.4 237.8 210.2 239M217.1 236.5 218.9 236.8 220 235.7 221.7 236M218 232.7 217.1 233.7 215.4 233.7 214.5 232.6 215.4 231.5 217.2 231.6 218 232.7M218 232.7 218.8 234.1M216 237.3 216.3 232.6M220.1 224.7 220.8 226.1M224.1 230.6 223.2 231.8 221.4 231.7 220.7 230.4 221.6 229.2 223.4 229.3 224.1 230.6M224.1 230.6 224.9 232M221.4 231.7 222.2 233.1M227.7 228.5 226.4 229.4 226.6 231M222.4 230.5 227.7 228.5M221.2 226.6 219.6 227.1 218.3 226.1M214.6 219 212.8 219.2 212.1 220.7 210.4 220.8 209.7 222.3M219.1 226.8 220.5 225.8 220.2 224.3M229.5 234.9 231.2 235.3 232.4 234.1M218.8 226.4 217.1 226.4 216.2 225.4 217.1 224.4 218.8 224.4 219.7 225.4 218.8 226.4M218.8 226.4 220.6 226.4M216.2 225.4 215.3 224.1 213.6 224.1 212.7 222.7M217.1 226.4 215.3 226.5 214.5 227.8M231.1 218 229.8 218.7 228.2 218.4 227.8 217.3 229.1 216.6 230.8 217 231.1 218M228.2 218.4 226.5 217.9 225.2 218.9M222 228.1 220.3 228.2M227 215 228.7 215.2 229.8 213.9 231.5 214.1 232.5 212.9M235.5 230.7 234.2 231.4 232.6 231.1 232.1 230.1 233.3 229.4 235 229.7 235.5 230.7M234.2 231.4 235.9 231.8M233.3 229.4 234.5 228.3 234.1 226.8 235.3 225.6M230.8 225.4 229.1 225.7 227.9 224.8 228.4 223.7 230.1 223.4 231.3 224.3 230.8 225.4M230.8 225.4 230.3 226.9 231.4 228.1 230.9 229.6M228.4 223.7 229 222.2M228.5 229.1 227.2 230 225.5 229.5 225.2 228.1 226.5 227.2 228.2 227.7 228.5 229.1M228.2 227.7 229.8 228.2 231.1 227.2M225.2 228.1 223.9 229.2 222.2 228.7 220.9 229.7M228.5 229.1 229.8 228M226.1 220.5 226.4 219 225.1 217.9M235.6 226.5 234 227.1 232.6 226.2 232.9 224.7 234.5 224.2 235.9 225.1 235.6 226.5M235.6 226.5 235.4 228.1M234.5 224.2 233.1 223.2 233.3 221.6 232 220.7" stroke="#a0a0a0" stroke-width="0.6" stroke-linejoin="round"/><path d="M93.4 208.6 93.4 207M105.9 206.7 105 205.4M106 215.8 106.8 217.2M106.4 217.6 108 218.2M112.3 210 113.9 209.3M115.6 208.6 116.7 209.9M113.2 206.1 113.9 207.5M104.7 203.9 103.1 204.4M118.3 202.3 117 203.3M112 200.4 110.8 201.6M115.7 209.7 117.4 209.8M121.3 203.2 122.4 204.4M115.2 195.7 114 194.5M126.4 202.1 126.2 203.7M127.9 195.6 127.4 197.1M133.9 191.3 134.6 192.7M128.8 186.7 130.4 185.9M141.5 191.3 142.7 190.2M133.9 191.7 132.2 191.2M136.9 195.6 135.6 196.6M139.5 193.6 139.8 195.2M147.6 193.9 148.7 195.2M148.2 189.2 146.9 188.2M151.8 190.8 150.2 190.3M151.9 192.4 152.7 191M168.1 198.1 169.2 196.9M165.1 195.1 166.1 193.8M167 199.1 167.7 200.5M172.9 191.3 174.7 191.2M178.7 189.6 178.1 191.1M179.6 186.3 178.9 184.9M112.4 204.7 111.6 203.3M122.1 205 121.3 206.4M124.2 208.4 125.1 209.8M126 195.9 127.4 195M118.6 200.4 117.3 199.4M127 204.5 125.5 203.7M124.6 210.5 124.2 209M127.2 215.7 128 217.1M124.8 214.6 124.7 216.2M187.1 215.8 187.3 217.3M185.1 208.8 184.5 207.3M190.7 215.5 189.5 216.6M191.1 212.1 191.3 213.7M193.9 210.2 195.3 209.3M192.4 202.1 193.5 200.9M184.9 203.1 183.5 204.1M191 206.2 189.2 205.9M192.4 203.4 192.2 204.9M197.3 192.6 199 193M195.3 190.9 195.6 192.4M199.1 179.3 200.2 178.1M195.8 188.5 194.4 189.5M203.4 179.4 205.1 179.4M203.8 181.3 205 180.1M197.4 176.1 195.7 176.7M191.7 166.6 189.9 166.6M197.1 170.9 195.8 169.9M192.8 170.8 192.4 172.3M195.8 179 196.1 180.5M201.4 169.3 199.7 169.8M200.3 167.4 198.7 168M198.8 165.3 200.4 164.6M189 195.3 187.5 196.1M200.9 200.5 202 199.2M207.9 193.1 209.5 193.7M205.4 189.3 205.7 187.7M205.8 197.5 207.5 197.9M211.5 180 213.3 179.7M213.2 189.5 214.6 190.5M208.2 191.8 208.1 193.4M219 188.4 220.3 187.4M226.9 182.3 227.2 180.7M222.6 192.7 221 193.3M224 177.1 222.9 178.3M229 182.5 228.2 181.1M224.6 183.4 223.8 182M223.1 180.2 221.5 179.6M225.1 189.1 224.3 190.5M227 177.6 226.1 176.3M236.9 181.1 236.1 179.7M244.4 183 245.8 183.9M248 183.8 246.4 183.2M246.7 186.1 246.9 187.7M246.4 183.1 244.8 182.4M214.9 166.9 213.7 165.7M213.7 165.6 212.5 164.5M212.1 168.5 213.5 167.6M216.9 170 218.1 168.9M204.6 175.1 205.4 173.7M209.7 178.7 209.9 180.3M219.3 175.5 218.4 176.8M215.7 167.2 217.3 166.5M217.6 171.1 219.3 171.5M215.7 166.8 215.9 168.4M229.3 161.9 227.6 161.5M115.7 272.7 116.5 271.3M104.9 270 104.6 271.5M110.6 255.9 109.1 255.1M115.9 255.1 114.8 253.9M116.7 262.4 117.3 260.9M115.9 264.3 114.2 264.5M117.7 259.1 118.2 257.6M113.2 262.1 111.5 262.5M129.1 257.4 129.6 258.9M118.2 249.7 116.6 248.9M134.5 249 135.6 247.8M127.1 248.3 128.6 249.1M129.1 247.3 130.5 246.3M131.9 249.5 130.3 250.2M136.5 249.1 138 248.4M127.6 241.7 126.9 240.3M138.5 245.8 139.3 247.2M139.3 239.8 137.9 238.9M138.5 237.9 139.9 237M137.5 234.9 137.9 233.4M136.1 238 136.4 239.5M130.4 236 128.9 236.7M148.8 236.4 150.4 237.1M146 232.1 144.5 231.2M146.4 220.2 148 219.5M148.7 226.1 150.4 225.9M149.5 227 151.1 226.4M149.3 224 149.7 225.6M155.2 220.4 154.1 219.2M161 218.6 162.2 217.4M150.9 220.2 152.3 221.1M143.1 228.8 141.8 229.9M147.7 234.7 149.5 234.6M147.5 227.9 145.8 227.6M155.6 233.2 156.6 231.9M164.2 230 162.4 230.2M164.7 224.5 165 226M169.1 225.8 168.1 227.1M168.6 221.9 170.3 222.2M172.9 227.8 174.1 229M181.2 274 180.2 275.2M184.5 268.5 182.9 269.1M177.2 262.8 178.1 264.2M181.4 261.9 182.4 260.7M189.2 257.1 190.7 257.9M182.8 256.3 181.3 257M186.2 245.4 184.4 245.2M186.2 247.3 187.8 246.8M187.5 245.5 186.1 244.6M185.3 237.8 183.6 237.3M184.6 239.4 184.8 237.9M188.2 245.1 187.9 246.6M184.1 242.3 182.4 242.9M182.3 243.5 182.4 245.1M177.4 235 177.3 233.4M188.4 238.6 189.4 239.9M188.5 224.4 186.8 224M195.4 234.2 195.8 235.8M194.4 233.3 195.4 232.1M195.2 236.5 196.9 236.7M190.8 230.6 191.5 232.1M196.1 232.6 197.3 233.8M196 228.8 197.7 228.4M202.4 239.5 202.7 241M198 231.7 197 233M196.7 234.5 197.1 236.1M200.8 231.6 199.7 230.4M209.1 225.1 208.8 226.7M207.8 231.4 208.6 232.8M213.5 231.7 215 230.9M217.1 233.7 218.8 233.8M220.8 226.1 222.5 226.3M224.9 232 226.7 232.1M209.7 222.3 208 222.5M220.6 226.4 221.5 227.8M220.3 228.2 219.6 229.7M232.6 231.1 230.9 230.7M232.6 226.2 232.4 227.7" stroke="#e86a66" stroke-width="0.75"/><path d="M109.8 203 111.2 203.7M125 201.2 126.4 201.9M134.9 190.2 136.3 190.9M127.1 189.6 128.5 190.3M179.1 191.8 180.5 192.5M125.5 215.6 126.9 216.3M189.7 206.5 191.1 207.2M207.7 192.9 209.1 193.6M218.1 186.1 219.5 186.8M222.1 182.3 223.5 183M242.1 188.6 243.5 189.3M248.1 185.3 249.5 186M209.4 176.5 210.8 177.2M114.7 259 116.1 259.7M134.2 244.3 135.6 245M147 234.3 148.4 235M153 226.7 154.4 227.4M169.4 228.3 170.8 229M178.1 261.7 179.5 262.4M179.1 236.8 180.5 237.5M191 239.3 192.4 240M207.8 229.7 209.2 230.4M212.6 234.4 214 235.1M211.9 227.3 213.3 228" stroke="#6a7ae0" stroke-width="0.8"/></g></defs>
<g font-family="Liberation Serif, Times New Roman, serif">
<path d="M151.8 149L237.5 162.4M237.5 162.4L194.2 203M194.2 203L107.4 185.5M107.4 185.5L151.8 149M154.5 233.1L240.7 245.8M240.7 245.8L196.3 283.3M196.3 283.3L110.1 269.6M110.1 269.6L154.5 233.1M151.8 149L154.5 233.1M237.5 162.4L240.7 245.8M194.2 203L196.3 283.3M107.4 185.5L110.1 269.6" stroke="#c4c4c4" stroke-width="0.8" fill="none"/>
<use href="#mol" transform="matrix(1.0000 0.0000 0.0000 1.0000 0.00 -0.00)"/>
<ellipse cx="131.8" cy="186.6" rx="2.4" ry="3.0" transform="rotate(-35 132.3 187.1)" fill="#4a0a32"/>
<ellipse cx="132.9" cy="187.7" rx="2.4" ry="3.0" transform="rotate(-35 132.3 187.1)" fill="#6e1a4e"/>
<circle cx="193.62" cy="197.77" r="2.2" fill="#30d040"/>
<circle cx="191.93" cy="196.36" r="2.4" fill="#2233cc"/>
<ellipse cx="210.4" cy="240.4" rx="2.4" ry="3.0" transform="rotate(-35 210.9 240.9)" fill="#4a0a32"/>
<ellipse cx="211.5" cy="241.5" rx="2.4" ry="3.0" transform="rotate(-35 210.9 240.9)" fill="#6e1a4e"/>
<ellipse cx="212.9" cy="254.4" rx="2.4" ry="3.0" transform="rotate(-35 213.4 254.9)" fill="#4a0a32"/>
<ellipse cx="214" cy="255.5" rx="2.4" ry="3.0" transform="rotate(-35 213.4 254.9)" fill="#6e1a4e"/>
<path d="M196.8 193.7L282.7 139.9" stroke="#000" stroke-width="1.2"/>
<text x="287.7" y="145.8" font-size="25">CO</text>
<path d="M203.4 243.3L123.8 298" stroke="#000" stroke-width="1.2"/>
<text x="105" y="315" font-size="25">N<tspan font-size="14">2</tspan></text>
<rect x="70.8" y="17.7" width="621.6" height="500.1" fill="none" stroke="#000" stroke-width="1.7"/>
<path d="M70.8 517.8v-9.5M127.28 517.8v-5M183.76 517.8v-9.5M240.24 517.8v-5M296.72 517.8v-9.5M353.2 517.8v-5M409.68 517.8v-9.5M466.16 517.8v-5M522.64 517.8v-9.5M579.12 517.8v-5M635.6 517.8v-9.5M70.8 517.8h9.5M70.8 467.8h5M70.8 417.8h9.5M70.8 367.8h5M70.8 317.8h9.5M70.8 267.8h5M70.8 217.8h9.5M70.8 167.8h5M70.8 117.8h9.5M70.8 67.8h5M70.8 17.8h9.5" stroke="#000" stroke-width="1.7" fill="none"/>
<text x="70.8" y="544.8" text-anchor="middle" font-size="22">0</text>
<text x="183.76" y="544.8" text-anchor="middle" font-size="22">2</text>
<text x="296.72" y="544.8" text-anchor="middle" font-size="22">4</text>
<text x="409.68" y="544.8" text-anchor="middle" font-size="22">6</text>
<text x="522.64" y="544.8" text-anchor="middle" font-size="22">8</text>
<text x="635.6" y="544.8" text-anchor="middle" font-size="22">10</text>
<text x="60.3" y="524.6" text-anchor="end" font-size="22">0</text>
<text x="60.3" y="424.6" text-anchor="end" font-size="22">4</text>
<text x="60.3" y="324.6" text-anchor="end" font-size="22">8</text>
<text x="60.3" y="224.6" text-anchor="end" font-size="22">12</text>
<text x="60.3" y="124.6" text-anchor="end" font-size="22">16</text>
<text x="60.3" y="24.6" text-anchor="end" font-size="22">20</text>
<text x="381.6" y="585" text-anchor="middle" font-size="26">Pressure/MPa</text>
<text transform="translate(27.9 267.75) rotate(-90) scale(1 1.05)" text-anchor="middle" font-size="26">Adsorption amount/mmol/g</text>
<text x="243.2" y="47.7" font-size="26.2">CO:N<tspan font-size="17.4" dy="6.8">2</tspan><tspan dy="-6.8">=0.2:0.8 298.15K</tspan></text>
<rect x="147.6" y="63.4" width="10" height="9.8" fill="#515151" stroke="#404040" stroke-width="0.8"/>
<circle cx="152.8" cy="94.8" r="6.1" fill="#f4444a"/>
<path d="M219.2 68.2H262.5" stroke="#000" stroke-width="1.6"/>
<path d="M217.5 94.6H260.8" stroke="#f00" stroke-width="1.6"/>
<text x="178.8" y="75.7" font-size="21.3">CO</text>
<text x="267.2" y="75.7" font-size="21.3">Fitted curve of CO by Langmuir equation</text>
<text x="179.1" y="102.6" font-size="21.3">N<tspan font-size="15" dy="5.4">2</tspan></text>
<text x="265.9" y="102.6" font-size="21.3">Fitted curve of N<tspan font-size="15" dy="5.4">2</tspan><tspan dy="-5.4"> by Langmuir equation</tspan></text>
<rect x="71.55" y="508.15" width="9.8" height="9.8" fill="#515151" stroke="#404040" stroke-width="0.8"/>
<rect x="122.38" y="492.65" width="9.8" height="9.8" fill="#515151" stroke="#404040" stroke-width="0.8"/>
<rect x="178.86" y="478.4" width="9.8" height="9.8" fill="#515151" stroke="#404040" stroke-width="0.8"/>
<rect x="235.34" y="465.65" width="9.8" height="9.8" fill="#515151" stroke="#404040" stroke-width="0.8"/>
<rect x="291.82" y="451.15" width="9.8" height="9.8" fill="#515151" stroke="#404040" stroke-width="0.8"/>
<rect x="348.3" y="444.9" width="9.8" height="9.8" fill="#515151" stroke="#404040" stroke-width="0.8"/>
<rect x="404.78" y="433.9" width="9.8" height="9.8" fill="#515151" stroke="#404040" stroke-width="0.8"/>
<rect x="461.26" y="422.15" width="9.8" height="9.8" fill="#515151" stroke="#404040" stroke-width="0.8"/>
<rect x="517.74" y="410.4" width="9.8" height="9.8" fill="#515151" stroke="#404040" stroke-width="0.8"/>
<rect x="574.22" y="401.65" width="9.8" height="9.8" fill="#515151" stroke="#404040" stroke-width="0.8"/>
<rect x="630.7" y="394.65" width="9.8" height="9.8" fill="#515151" stroke="#404040" stroke-width="0.8"/>
<circle cx="76.45" cy="513.05" r="6" fill="#f4444a"/>
<circle cx="127.28" cy="480.05" r="6" fill="#f4444a"/>
<circle cx="183.76" cy="448.3" r="6" fill="#f4444a"/>
<circle cx="240.24" cy="420.3" r="6" fill="#f4444a"/>
<circle cx="296.72" cy="394.8" r="6" fill="#f4444a"/>
<circle cx="353.2" cy="366.55" r="6" fill="#f4444a"/>
<circle cx="409.68" cy="346.55" r="6" fill="#f4444a"/>
<circle cx="466.16" cy="324.3" r="6" fill="#f4444a"/>
<circle cx="522.64" cy="307.3" r="6" fill="#f4444a"/>
<circle cx="579.12" cy="291.8" r="6" fill="#f4444a"/>
<circle cx="635.6" cy="269.55" r="6" fill="#f4444a"/>
<polyline points="76.45,514.31 81.15,512.24 85.85,510.39 90.54,508.68 95.24,507.05 99.94,505.5 104.64,504.01 109.34,502.56 114.04,501.16 118.74,499.79 123.44,498.45 128.13,497.13 132.83,495.85 137.53,494.58 142.23,493.34 146.93,492.11 151.63,490.91 156.33,489.72 161.03,488.54 165.72,487.38 170.42,486.23 175.12,485.09 179.82,483.97 184.52,482.86 189.22,481.76 193.92,480.66 198.62,479.58 203.31,478.51 208.01,477.44 212.71,476.39 217.41,475.34 222.11,474.3 226.81,473.27 231.51,472.24 236.21,471.23 240.9,470.21 245.6,469.21 250.3,468.21 255,467.22 259.7,466.23 264.4,465.25 269.1,464.28 273.8,463.31 278.49,462.34 283.19,461.38 287.89,460.43 292.59,459.48 297.29,458.53 301.99,457.59 306.69,456.66 311.39,455.72 316.08,454.8 320.78,453.87 325.48,452.95 330.18,452.04 334.88,451.13 339.58,450.22 344.28,449.31 348.98,448.41 353.67,447.52 358.37,446.62 363.07,445.73 367.77,444.85 372.47,443.96 377.17,443.08 381.87,442.21 386.57,441.33 391.26,440.46 395.96,439.59 400.66,438.73 405.36,437.87 410.06,437.01 414.76,436.15 419.46,435.3 424.16,434.44 428.85,433.6 433.55,432.75 438.25,431.91 442.95,431.07 447.65,430.23 452.35,429.39 457.05,428.56 461.75,427.73 466.44,426.9 471.14,426.07 475.84,425.25 480.54,424.42 485.24,423.6 489.94,422.79 494.64,421.97 499.34,421.16 504.03,420.35 508.73,419.54 513.43,418.73 518.13,417.92 522.83,417.12 527.53,416.32 532.23,415.52 536.93,414.72 541.62,413.93 546.32,413.13 551.02,412.34 555.72,411.55 560.42,410.76 565.12,409.98 569.82,409.19 574.52,408.41 579.21,407.63 583.91,406.85 588.61,406.07 593.31,405.29 598.01,404.52 602.71,403.74 607.41,402.97 612.11,402.2 616.8,401.43 621.5,400.67 626.2,399.9 630.9,399.14 635.6,398.37" fill="none" stroke="#000" stroke-width="1.7" stroke-linejoin="round"/>
<polyline points="76.45,513.48 81.15,510.14 85.85,506.88 90.54,503.7 95.24,500.58 99.94,497.51 104.64,494.48 109.34,491.49 114.04,488.55 118.74,485.64 123.44,482.76 128.13,479.92 132.83,477.1 137.53,474.32 142.23,471.57 146.93,468.84 151.63,466.14 156.33,463.47 161.03,460.82 165.72,458.19 170.42,455.59 175.12,453.02 179.82,450.46 184.52,447.93 189.22,445.42 193.92,442.93 198.62,440.46 203.31,438.02 208.01,435.59 212.71,433.18 217.41,430.79 222.11,428.43 226.81,426.07 231.51,423.74 236.21,421.43 240.9,419.13 245.6,416.85 250.3,414.59 255,412.35 259.7,410.12 264.4,407.91 269.1,405.72 273.8,403.54 278.49,401.37 283.19,399.23 287.89,397.09 292.59,394.98 297.29,392.88 301.99,390.79 306.69,388.72 311.39,386.66 316.08,384.61 320.78,382.58 325.48,380.57 330.18,378.56 334.88,376.58 339.58,374.6 344.28,372.64 348.98,370.69 353.67,368.75 358.37,366.83 363.07,364.91 367.77,363.02 372.47,361.13 377.17,359.25 381.87,357.39 386.57,355.54 391.26,353.7 395.96,351.87 400.66,350.06 405.36,348.25 410.06,346.46 414.76,344.68 419.46,342.91 424.16,341.14 428.85,339.4 433.55,337.66 438.25,335.93 442.95,334.21 447.65,332.5 452.35,330.8 457.05,329.12 461.75,327.44 466.44,325.77 471.14,324.11 475.84,322.47 480.54,320.83 485.24,319.2 489.94,317.58 494.64,315.97 499.34,314.37 504.03,312.78 508.73,311.2 513.43,309.62 518.13,308.06 522.83,306.5 527.53,304.96 532.23,303.42 536.93,301.89 541.62,300.37 546.32,298.85 551.02,297.35 555.72,295.85 560.42,294.37 565.12,292.89 569.82,291.42 574.52,289.95 579.21,288.5 583.91,287.05 588.61,285.61 593.31,284.18 598.01,282.75 602.71,281.34 607.41,279.93 612.11,278.52 616.8,277.13 621.5,275.74 626.2,274.36 630.9,272.99 635.6,271.62" fill="none" stroke="#f00" stroke-width="1.7" stroke-linejoin="round"/>
</g>
<g font-family="TeX Gyre Cursor, FreeMono, Liberation Mono, Courier New, monospace" font-size="42" text-anchor="middle" style="font-size-adjust:cap-height 0.563">
<text x="130.76" y="675.2">(</text>
<text x="155.13" y="675.2">a</text>
<text x="180.43" y="675.2">)</text>
<text x="229.76" y="675.2">C</text>
<text x="253.9" y="675.2">O</text>
<text x="279" y="675.2">:</text>
<text x="328.24" y="675.2">N</text>
<text x="369.78" y="675.2">=</text>
<text x="394.6" y="675.2">0</text>
<text x="419.5" y="675.2">.</text>
<text x="443.5" y="675.2">2</text>
<text x="469.1" y="675.2">:</text>
<text x="518.4" y="675.2">0</text>
<text x="542.8" y="675.2">.</text>
<text x="567.3" y="675.2">8</text>
<text x="349.42" y="679.7" font-size="27.5">2</text>
</g>
<g font-family="Liberation Serif, Times New Roman, serif">
<path d="M964.6 149L1055.6 161.1M1055.6 161.1L1011.3 212.7M1011.3 212.7L919 185.4M919 185.4L964.6 149M967.1 238.4L1058.1 250.8M1058.1 250.8L1013.4 288M1013.4 288L921.5 274.8M921.5 274.8L967.1 238.4M964.6 149L967.1 238.4M1055.6 161.1L1058.1 250.8M1011.3 212.7L1013.4 288M919 185.4L921.5 274.8" stroke="#c4c4c4" stroke-width="0.8" fill="none"/>
<use href="#mol" transform="matrix(1.0532 0.0074 0.0035 1.0453 804.74 -7.53)"/>
<ellipse cx="944.2" cy="186.6" rx="2.4" ry="3.0" transform="rotate(-35 944.7 187.1)" fill="#4a0a32"/>
<ellipse cx="945.3" cy="187.7" rx="2.4" ry="3.0" transform="rotate(-35 944.7 187.1)" fill="#6e1a4e"/>
<ellipse cx="1001.3" cy="188.2" rx="2.4" ry="3.0" transform="rotate(-35 1001.8 188.7)" fill="#4a0a32"/>
<ellipse cx="1002.4" cy="189.3" rx="2.4" ry="3.0" transform="rotate(-35 1001.8 188.7)" fill="#6e1a4e"/>
<circle cx="956.9" cy="200.96" r="2.2" fill="#30d040"/>
<circle cx="955.8" cy="202.87" r="2.4" fill="#2233cc"/>
<circle cx="1029.15" cy="243.35" r="2.2" fill="#30d040"/>
<circle cx="1027.59" cy="244.91" r="2.4" fill="#2233cc"/>
<circle cx="1025.41" cy="268.13" r="2.2" fill="#30d040"/>
<circle cx="1024.66" cy="266.06" r="2.4" fill="#2233cc"/>
<path d="M1011.8 187.1L1095.4 140.7" stroke="#000" stroke-width="1.2"/>
<text x="1097.1" y="148.1" font-size="25">N<tspan font-size="14">2</tspan></text>
<path d="M1020 247.2L939.7 298" stroke="#000" stroke-width="1.2"/>
<text x="920.5" y="314.5" font-size="25">CO</text>
<rect x="885.2" y="17.7" width="621.6" height="500.1" fill="none" stroke="#000" stroke-width="1.7"/>
<path d="M885.2 517.8v-9.5M941.68 517.8v-5M998.16 517.8v-9.5M1054.64 517.8v-5M1111.12 517.8v-9.5M1167.6 517.8v-5M1224.08 517.8v-9.5M1280.56 517.8v-5M1337.04 517.8v-9.5M1393.52 517.8v-5M1450 517.8v-9.5M885.2 517.8h9.5M885.2 467.8h5M885.2 417.8h9.5M885.2 367.8h5M885.2 317.8h9.5M885.2 267.8h5M885.2 217.8h9.5M885.2 167.8h5M885.2 117.8h9.5M885.2 67.8h5M885.2 17.8h9.5" stroke="#000" stroke-width="1.7" fill="none"/>
<text x="885.2" y="544.8" text-anchor="middle" font-size="22">0</text>
<text x="998.16" y="544.8" text-anchor="middle" font-size="22">2</text>
<text x="1111.12" y="544.8" text-anchor="middle" font-size="22">4</text>
<text x="1224.08" y="544.8" text-anchor="middle" font-size="22">6</text>
<text x="1337.04" y="544.8" text-anchor="middle" font-size="22">8</text>
<text x="1450" y="544.8" text-anchor="middle" font-size="22">10</text>
<text x="874.7" y="524.6" text-anchor="end" font-size="22">0</text>
<text x="874.7" y="424.6" text-anchor="end" font-size="22">4</text>
<text x="874.7" y="324.6" text-anchor="end" font-size="22">8</text>
<text x="874.7" y="224.6" text-anchor="end" font-size="22">12</text>
<text x="874.7" y="124.6" text-anchor="end" font-size="22">16</text>
<text x="874.7" y="24.6" text-anchor="end" font-size="22">20</text>
<text x="1196" y="585" text-anchor="middle" font-size="26">Pressure/MPa</text>
<text transform="translate(842.3 267.75) rotate(-90) scale(1 1.05)" text-anchor="middle" font-size="26">Adsorption amount/mmol/g</text>
<text x="1057.6" y="47.7" font-size="26.2">CO:N<tspan font-size="17.4" dy="6.8">2</tspan><tspan dy="-6.8">=0.4:0.6 298.15K</tspan></text>
<rect x="962" y="63.4" width="10" height="9.8" fill="#515151" stroke="#404040" stroke-width="0.8"/>
<circle cx="967.2" cy="94.8" r="6.1" fill="#f4444a"/>
<path d="M1033.6 68.2H1076.9" stroke="#000" stroke-width="1.6"/>
<path d="M1031.9 94.6H1075.2" stroke="#f00" stroke-width="1.6"/>
<text x="993.2" y="75.7" font-size="21.3">CO</text>
<text x="1081.6" y="75.7" font-size="21.3">Fitted curve of CO by Langmuir equation</text>
<text x="993.5" y="102.6" font-size="21.3">N<tspan font-size="15" dy="5.4">2</tspan></text>
<text x="1080.3" y="102.6" font-size="21.3">Fitted curve of N<tspan font-size="15" dy="5.4">2</tspan><tspan dy="-5.4"> by Langmuir equation</tspan></text>
<rect x="885.95" y="509.15" width="9.8" height="9.8" fill="#515151" stroke="#404040" stroke-width="0.8"/>
<rect x="936.78" y="474.65" width="9.8" height="9.8" fill="#515151" stroke="#404040" stroke-width="0.8"/>
<rect x="993.26" y="443.4" width="9.8" height="9.8" fill="#515151" stroke="#404040" stroke-width="0.8"/>
<rect x="1049.74" y="422.15" width="9.8" height="9.8" fill="#515151" stroke="#404040" stroke-width="0.8"/>
<rect x="1106.22" y="397.9" width="9.8" height="9.8" fill="#515151" stroke="#404040" stroke-width="0.8"/>
<rect x="1162.7" y="380.9" width="9.8" height="9.8" fill="#515151" stroke="#404040" stroke-width="0.8"/>
<rect x="1219.18" y="354.9" width="9.8" height="9.8" fill="#515151" stroke="#404040" stroke-width="0.8"/>
<rect x="1275.66" y="336.65" width="9.8" height="9.8" fill="#515151" stroke="#404040" stroke-width="0.8"/>
<rect x="1332.14" y="319.9" width="9.8" height="9.8" fill="#515151" stroke="#404040" stroke-width="0.8"/>
<rect x="1388.62" y="302.9" width="9.8" height="9.8" fill="#515151" stroke="#404040" stroke-width="0.8"/>
<rect x="1445.1" y="282.9" width="9.8" height="9.8" fill="#515151" stroke="#404040" stroke-width="0.8"/>
<circle cx="890.85" cy="514.3" r="6" fill="#f4444a"/>
<circle cx="941.68" cy="490.55" r="6" fill="#f4444a"/>
<circle cx="998.16" cy="467.3" r="6" fill="#f4444a"/>
<circle cx="1054.64" cy="445.55" r="6" fill="#f4444a"/>
<circle cx="1111.12" cy="428.8" r="6" fill="#f4444a"/>
<circle cx="1167.6" cy="408.55" r="6" fill="#f4444a"/>
<circle cx="1224.08" cy="393.8" r="6" fill="#f4444a"/>
<circle cx="1280.56" cy="376.3" r="6" fill="#f4444a"/>
<circle cx="1337.04" cy="362.8" r="6" fill="#f4444a"/>
<circle cx="1393.52" cy="350.3" r="6" fill="#f4444a"/>
<circle cx="1450" cy="338.05" r="6" fill="#f4444a"/>
<polyline points="890.85,511.57 895.55,507.72 900.25,504.22 904.94,500.95 909.64,497.84 914.34,494.85 919.04,491.97 923.74,489.17 928.44,486.44 933.14,483.78 937.84,481.17 942.53,478.62 947.23,476.11 951.93,473.64 956.63,471.21 961.33,468.82 966.03,466.46 970.73,464.13 975.43,461.83 980.12,459.55 984.82,457.31 989.52,455.09 994.22,452.89 998.92,450.71 1003.62,448.55 1008.32,446.42 1013.02,444.3 1017.71,442.2 1022.41,440.12 1027.11,438.06 1031.81,436.01 1036.51,433.98 1041.21,431.96 1045.91,429.96 1050.61,427.97 1055.3,426 1060,424.04 1064.7,422.09 1069.4,420.16 1074.1,418.24 1078.8,416.33 1083.5,414.43 1088.2,412.54 1092.89,410.67 1097.59,408.8 1102.29,406.95 1106.99,405.11 1111.69,403.27 1116.39,401.45 1121.09,399.63 1125.79,397.83 1130.48,396.03 1135.18,394.24 1139.88,392.47 1144.58,390.7 1149.28,388.93 1153.98,387.18 1158.68,385.44 1163.38,383.7 1168.07,381.97 1172.77,380.25 1177.47,378.54 1182.17,376.83 1186.87,375.13 1191.57,373.44 1196.27,371.76 1200.97,370.08 1205.66,368.41 1210.36,366.74 1215.06,365.09 1219.76,363.43 1224.46,361.79 1229.16,360.15 1233.86,358.52 1238.56,356.89 1243.25,355.28 1247.95,353.66 1252.65,352.05 1257.35,350.45 1262.05,348.86 1266.75,347.27 1271.45,345.68 1276.15,344.1 1280.84,342.53 1285.54,340.96 1290.24,339.4 1294.94,337.84 1299.64,336.28 1304.34,334.74 1309.04,333.19 1313.74,331.66 1318.43,330.12 1323.13,328.6 1327.83,327.07 1332.53,325.55 1337.23,324.04 1341.93,322.53 1346.63,321.03 1351.33,319.53 1356.02,318.03 1360.72,316.54 1365.42,315.06 1370.12,313.58 1374.82,312.1 1379.52,310.63 1384.22,309.16 1388.92,307.69 1393.61,306.23 1398.31,304.78 1403.01,303.32 1407.71,301.87 1412.41,300.43 1417.11,298.99 1421.81,297.55 1426.51,296.12 1431.2,294.69 1435.9,293.27 1440.6,291.85 1445.3,290.43 1450,289.02" fill="none" stroke="#000" stroke-width="1.7" stroke-linejoin="round"/>
<polyline points="890.85,514.67 895.55,512.25 900.25,509.89 904.94,507.58 909.64,505.32 914.34,503.09 919.04,500.89 923.74,498.72 928.44,496.58 933.14,494.47 937.84,492.38 942.53,490.31 947.23,488.27 951.93,486.24 956.63,484.24 961.33,482.26 966.03,480.29 970.73,478.35 975.43,476.42 980.12,474.51 984.82,472.61 989.52,470.74 994.22,468.88 998.92,467.03 1003.62,465.2 1008.32,463.39 1013.02,461.59 1017.71,459.8 1022.41,458.03 1027.11,456.27 1031.81,454.53 1036.51,452.8 1041.21,451.09 1045.91,449.38 1050.61,447.69 1055.3,446.02 1060,444.35 1064.7,442.7 1069.4,441.06 1074.1,439.43 1078.8,437.81 1083.5,436.21 1088.2,434.61 1092.89,433.03 1097.59,431.46 1102.29,429.9 1106.99,428.35 1111.69,426.81 1116.39,425.28 1121.09,423.76 1125.79,422.25 1130.48,420.76 1135.18,419.27 1139.88,417.79 1144.58,416.32 1149.28,414.86 1153.98,413.42 1158.68,411.98 1163.38,410.55 1168.07,409.12 1172.77,407.71 1177.47,406.31 1182.17,404.92 1186.87,403.53 1191.57,402.15 1196.27,400.79 1200.97,399.43 1205.66,398.08 1210.36,396.73 1215.06,395.4 1219.76,394.07 1224.46,392.75 1229.16,391.44 1233.86,390.14 1238.56,388.85 1243.25,387.56 1247.95,386.28 1252.65,385.01 1257.35,383.74 1262.05,382.49 1266.75,381.24 1271.45,380 1276.15,378.76 1280.84,377.53 1285.54,376.31 1290.24,375.1 1294.94,373.89 1299.64,372.69 1304.34,371.5 1309.04,370.31 1313.74,369.13 1318.43,367.96 1323.13,366.79 1327.83,365.63 1332.53,364.48 1337.23,363.33 1341.93,362.19 1346.63,361.06 1351.33,359.93 1356.02,358.81 1360.72,357.69 1365.42,356.58 1370.12,355.48 1374.82,354.38 1379.52,353.29 1384.22,352.2 1388.92,351.12 1393.61,350.04 1398.31,348.97 1403.01,347.91 1407.71,346.85 1412.41,345.8 1417.11,344.75 1421.81,343.71 1426.51,342.67 1431.2,341.64 1435.9,340.62 1440.6,339.6 1445.3,338.58 1450,337.57" fill="none" stroke="#f00" stroke-width="1.7" stroke-linejoin="round"/>
</g>
<g font-family="TeX Gyre Cursor, FreeMono, Liberation Mono, Courier New, monospace" font-size="42" text-anchor="middle" style="font-size-adjust:cap-height 0.563">
<text x="945.66" y="675.2">(</text>
<text x="971.08" y="675.2">b</text>
<text x="995.33" y="675.2">)</text>
<text x="1044.66" y="675.2">C</text>
<text x="1068.8" y="675.2">O</text>
<text x="1093.9" y="675.2">:</text>
<text x="1143.14" y="675.2">N</text>
<text x="1184.68" y="675.2">=</text>
<text x="1209.5" y="675.2">0</text>
<text x="1234.4" y="675.2">.</text>
<text x="1257.96" y="675.2">4</text>
<text x="1284" y="675.2">:</text>
<text x="1333.3" y="675.2">0</text>
<text x="1357.7" y="675.2">.</text>
<text x="1381.23" y="675.2">6</text>
<text x="1164.32" y="679.7" font-size="27.5">2</text>
</g>
<g font-family="Liberation Serif, Times New Roman, serif">
<path d="M142.9 878.4L229.8 894.9M229.8 894.9L181.8 931.7M181.8 931.7L95.2 915.1M95.2 915.1L142.9 878.4M144.6 964.8L231.5 980.5M231.5 980.5L183.5 1017.8M183.5 1017.8L96.6 1001.2M96.6 1001.2L144.6 964.8M142.9 878.4L144.6 964.8M229.8 894.9L231.5 980.5M181.8 931.7L183.5 1017.8M95.2 915.1L96.6 1001.2" stroke="#c4c4c4" stroke-width="0.8" fill="none"/>
<use href="#mol" transform="matrix(1.0225 0.0246 -0.0256 1.0292 -9.19 720.98)"/>
<circle cx="121.4" cy="918" r="2.2" fill="#30d040"/>
<circle cx="121.4" cy="915.8" r="2.4" fill="#2233cc"/>
<circle cx="122.41" cy="954.38" r="2.2" fill="#30d040"/>
<circle cx="122.03" cy="952.22" r="2.4" fill="#2233cc"/>
<circle cx="120.8" cy="959.66" r="2.2" fill="#30d040"/>
<circle cx="121.9" cy="961.57" r="2.4" fill="#2233cc"/>
<circle cx="134.65" cy="958.95" r="2.2" fill="#30d040"/>
<circle cx="136.21" cy="960.51" r="2.4" fill="#2233cc"/>
<ellipse cx="193.4" cy="925.1" rx="2.4" ry="3.0" transform="rotate(-35 193.9 925.6)" fill="#4a0a32"/>
<ellipse cx="194.5" cy="926.2" rx="2.4" ry="3.0" transform="rotate(-35 193.9 925.6)" fill="#6e1a4e"/>
<path d="M196.7 921.8L282 873.7" stroke="#000" stroke-width="1.2"/>
<text x="283.8" y="882" font-size="25">N<tspan font-size="14">2</tspan></text>
<path d="M132.2 967.3L123.9 1032.7" stroke="#000" stroke-width="1.2"/>
<text x="106.3" y="1048.4" font-size="25">CO</text>
<rect x="70.8" y="752.4" width="621.6" height="500.1" fill="none" stroke="#000" stroke-width="1.7"/>
<path d="M70.8 1252.5v-9.5M127.28 1252.5v-5M183.76 1252.5v-9.5M240.24 1252.5v-5M296.72 1252.5v-9.5M353.2 1252.5v-5M409.68 1252.5v-9.5M466.16 1252.5v-5M522.64 1252.5v-9.5M579.12 1252.5v-5M635.6 1252.5v-9.5M70.8 1252.5h9.5M70.8 1202.5h5M70.8 1152.5h9.5M70.8 1102.5h5M70.8 1052.5h9.5M70.8 1002.5h5M70.8 952.5h9.5M70.8 902.5h5M70.8 852.5h9.5M70.8 802.5h5M70.8 752.5h9.5" stroke="#000" stroke-width="1.7" fill="none"/>
<text x="70.8" y="1279.5" text-anchor="middle" font-size="22">0</text>
<text x="183.76" y="1279.5" text-anchor="middle" font-size="22">2</text>
<text x="296.72" y="1279.5" text-anchor="middle" font-size="22">4</text>
<text x="409.68" y="1279.5" text-anchor="middle" font-size="22">6</text>
<text x="522.64" y="1279.5" text-anchor="middle" font-size="22">8</text>
<text x="635.6" y="1279.5" text-anchor="middle" font-size="22">10</text>
<text x="60.3" y="1259.3" text-anchor="end" font-size="22">0</text>
<text x="60.3" y="1159.3" text-anchor="end" font-size="22">4</text>
<text x="60.3" y="1059.3" text-anchor="end" font-size="22">8</text>
<text x="60.3" y="959.3" text-anchor="end" font-size="22">12</text>
<text x="60.3" y="859.3" text-anchor="end" font-size="22">16</text>
<text x="60.3" y="759.3" text-anchor="end" font-size="22">20</text>
<text x="381.6" y="1319.7" text-anchor="middle" font-size="26">Pressure/MPa</text>
<text transform="translate(27.9 1002.45) rotate(-90) scale(1 1.05)" text-anchor="middle" font-size="26">Adsorption amount/mmol/g</text>
<text x="243.2" y="782.4" font-size="26.2">CO:N<tspan font-size="17.4" dy="6.8">2</tspan><tspan dy="-6.8">=0.6:0.4 298.15K</tspan></text>
<rect x="147.6" y="798.1" width="10" height="9.8" fill="#515151" stroke="#404040" stroke-width="0.8"/>
<circle cx="152.8" cy="829.5" r="6.1" fill="#f4444a"/>
<path d="M219.2 802.9H262.5" stroke="#000" stroke-width="1.6"/>
<path d="M217.5 829.3H260.8" stroke="#f00" stroke-width="1.6"/>
<text x="178.8" y="810.4" font-size="21.3">CO</text>
<text x="267.2" y="810.4" font-size="21.3">Fitted curve of CO by Langmuir equation</text>
<text x="179.1" y="837.3" font-size="21.3">N<tspan font-size="15" dy="5.4">2</tspan></text>
<text x="265.9" y="837.3" font-size="21.3">Fitted curve of N<tspan font-size="15" dy="5.4">2</tspan><tspan dy="-5.4"> by Langmuir equation</tspan></text>
<rect x="71.55" y="1239.1" width="9.8" height="9.8" fill="#515151" stroke="#404040" stroke-width="0.8"/>
<rect x="122.38" y="1193.6" width="9.8" height="9.8" fill="#515151" stroke="#404040" stroke-width="0.8"/>
<rect x="178.86" y="1151.85" width="9.8" height="9.8" fill="#515151" stroke="#404040" stroke-width="0.8"/>
<rect x="235.34" y="1115.35" width="9.8" height="9.8" fill="#515151" stroke="#404040" stroke-width="0.8"/>
<rect x="291.82" y="1077.6" width="9.8" height="9.8" fill="#515151" stroke="#404040" stroke-width="0.8"/>
<rect x="348.3" y="1051.1" width="9.8" height="9.8" fill="#515151" stroke="#404040" stroke-width="0.8"/>
<rect x="404.78" y="1019.1" width="9.8" height="9.8" fill="#515151" stroke="#404040" stroke-width="0.8"/>
<rect x="461.26" y="997.1" width="9.8" height="9.8" fill="#515151" stroke="#404040" stroke-width="0.8"/>
<rect x="517.74" y="965.1" width="9.8" height="9.8" fill="#515151" stroke="#404040" stroke-width="0.8"/>
<rect x="574.22" y="937.6" width="9.8" height="9.8" fill="#515151" stroke="#404040" stroke-width="0.8"/>
<rect x="630.7" y="914.85" width="9.8" height="9.8" fill="#515151" stroke="#404040" stroke-width="0.8"/>
<circle cx="76.45" cy="1249.5" r="6" fill="#f4444a"/>
<circle cx="127.28" cy="1234" r="6" fill="#f4444a"/>
<circle cx="183.76" cy="1219.25" r="6" fill="#f4444a"/>
<circle cx="240.24" cy="1205.5" r="6" fill="#f4444a"/>
<circle cx="296.72" cy="1193.75" r="6" fill="#f4444a"/>
<circle cx="353.2" cy="1182.5" r="6" fill="#f4444a"/>
<circle cx="409.68" cy="1173" r="6" fill="#f4444a"/>
<circle cx="466.16" cy="1159.5" r="6" fill="#f4444a"/>
<circle cx="522.64" cy="1152.5" r="6" fill="#f4444a"/>
<circle cx="579.12" cy="1142" r="6" fill="#f4444a"/>
<circle cx="635.6" cy="1136.5" r="6" fill="#f4444a"/>
<polyline points="76.45,1244.16 81.15,1238.78 85.85,1233.84 90.54,1229.17 95.24,1224.72 99.94,1220.42 104.64,1216.25 109.34,1212.2 114.04,1208.24 118.74,1204.37 123.44,1200.57 128.13,1196.84 132.83,1193.17 137.53,1189.56 142.23,1186 146.93,1182.49 151.63,1179.03 156.33,1175.61 161.03,1172.23 165.72,1168.89 170.42,1165.59 175.12,1162.32 179.82,1159.08 184.52,1155.88 189.22,1152.7 193.92,1149.56 198.62,1146.44 203.31,1143.35 208.01,1140.28 212.71,1137.24 217.41,1134.22 222.11,1131.23 226.81,1128.26 231.51,1125.31 236.21,1122.38 240.9,1119.47 245.6,1116.58 250.3,1113.71 255,1110.86 259.7,1108.03 264.4,1105.22 269.1,1102.42 273.8,1099.64 278.49,1096.88 283.19,1094.14 287.89,1091.41 292.59,1088.69 297.29,1085.99 301.99,1083.31 306.69,1080.64 311.39,1077.98 316.08,1075.34 320.78,1072.71 325.48,1070.1 330.18,1067.5 334.88,1064.91 339.58,1062.34 344.28,1059.78 348.98,1057.23 353.67,1054.69 358.37,1052.17 363.07,1049.65 367.77,1047.15 372.47,1044.66 377.17,1042.18 381.87,1039.72 386.57,1037.26 391.26,1034.81 395.96,1032.38 400.66,1029.95 405.36,1027.54 410.06,1025.13 414.76,1022.74 419.46,1020.35 424.16,1017.98 428.85,1015.62 433.55,1013.26 438.25,1010.91 442.95,1008.58 447.65,1006.25 452.35,1003.93 457.05,1001.62 461.75,999.32 466.44,997.03 471.14,994.75 475.84,992.47 480.54,990.21 485.24,987.95 489.94,985.7 494.64,983.46 499.34,981.22 504.03,979 508.73,976.78 513.43,974.57 518.13,972.37 522.83,970.18 527.53,967.99 532.23,965.81 536.93,963.64 541.62,961.47 546.32,959.32 551.02,957.17 555.72,955.03 560.42,952.89 565.12,950.76 569.82,948.64 574.52,946.53 579.21,944.42 583.91,942.32 588.61,940.22 593.31,938.14 598.01,936.06 602.71,933.98 607.41,931.91 612.11,929.85 616.8,927.8 621.5,925.75 626.2,923.71 630.9,921.67 635.6,919.64" fill="none" stroke="#000" stroke-width="1.7" stroke-linejoin="round"/>
<polyline points="76.45,1250.15 81.15,1248.45 85.85,1246.83 90.54,1245.26 95.24,1243.74 99.94,1242.26 104.64,1240.81 109.34,1239.38 114.04,1237.98 118.74,1236.6 123.44,1235.24 128.13,1233.9 132.83,1232.58 137.53,1231.28 142.23,1229.98 146.93,1228.71 151.63,1227.45 156.33,1226.2 161.03,1224.96 165.72,1223.74 170.42,1222.53 175.12,1221.33 179.82,1220.14 184.52,1218.97 189.22,1217.8 193.92,1216.64 198.62,1215.5 203.31,1214.36 208.01,1213.23 212.71,1212.11 217.41,1211 222.11,1209.9 226.81,1208.81 231.51,1207.73 236.21,1206.65 240.9,1205.58 245.6,1204.52 250.3,1203.47 255,1202.42 259.7,1201.38 264.4,1200.35 269.1,1199.33 273.8,1198.31 278.49,1197.3 283.19,1196.3 287.89,1195.3 292.59,1194.31 297.29,1193.33 301.99,1192.35 306.69,1191.38 311.39,1190.42 316.08,1189.46 320.78,1188.51 325.48,1187.56 330.18,1186.62 334.88,1185.68 339.58,1184.75 344.28,1183.83 348.98,1182.91 353.67,1182 358.37,1181.09 363.07,1180.18 367.77,1179.29 372.47,1178.39 377.17,1177.51 381.87,1176.62 386.57,1175.75 391.26,1174.87 395.96,1174.01 400.66,1173.14 405.36,1172.28 410.06,1171.43 414.76,1170.58 419.46,1169.74 424.16,1168.9 428.85,1168.06 433.55,1167.23 438.25,1166.4 442.95,1165.58 447.65,1164.76 452.35,1163.95 457.05,1163.14 461.75,1162.33 466.44,1161.53 471.14,1160.73 475.84,1159.94 480.54,1159.15 485.24,1158.36 489.94,1157.58 494.64,1156.8 499.34,1156.03 504.03,1155.26 508.73,1154.49 513.43,1153.73 518.13,1152.97 522.83,1152.22 527.53,1151.46 532.23,1150.72 536.93,1149.97 541.62,1149.23 546.32,1148.49 551.02,1147.76 555.72,1147.03 560.42,1146.3 565.12,1145.58 569.82,1144.86 574.52,1144.14 579.21,1143.42 583.91,1142.71 588.61,1142.01 593.31,1141.3 598.01,1140.6 602.71,1139.9 607.41,1139.21 612.11,1138.52 616.8,1137.83 621.5,1137.14 626.2,1136.46 630.9,1135.78 635.6,1135.1" fill="none" stroke="#f00" stroke-width="1.7" stroke-linejoin="round"/>
</g>
<g font-family="TeX Gyre Cursor, FreeMono, Liberation Mono, Courier New, monospace" font-size="42" text-anchor="middle" style="font-size-adjust:cap-height 0.563">
<text x="130.76" y="1409.9">(</text>
<text x="155" y="1409.9">c</text>
<text x="180.43" y="1409.9">)</text>
<text x="229.76" y="1409.9">C</text>
<text x="253.9" y="1409.9">O</text>
<text x="279" y="1409.9">:</text>
<text x="328.24" y="1409.9">N</text>
<text x="369.78" y="1409.9">=</text>
<text x="394.6" y="1409.9">0</text>
<text x="419.5" y="1409.9">.</text>
<text x="441.73" y="1409.9">6</text>
<text x="469.1" y="1409.9">:</text>
<text x="518.4" y="1409.9">0</text>
<text x="542.8" y="1409.9">.</text>
<text x="567.66" y="1409.9">4</text>
<text x="349.42" y="1414.4" font-size="27.5">2</text>
</g>
<g font-family="Liberation Serif, Times New Roman, serif">
<path d="M957.6 885.9L1042.4 903.1M1042.4 903.1L994 951.6M994 951.6L908.2 922.6M908.2 922.6L957.6 885.9M958.7 972.3L1044.8 987.2M1044.8 987.2L995.5 1024.4M995.5 1024.4L909.6 1006.2M909.6 1006.2L958.7 972.3M957.6 885.9L958.7 972.3M1042.4 903.1L1044.8 987.2M994 951.6L995.5 1024.4M908.2 922.6L909.6 1006.2" stroke="#c4c4c4" stroke-width="0.8" fill="none"/>
<use href="#mol" transform="matrix(1.0168 0.0444 -0.0329 1.0050 806.49 731.41)"/>
<circle cx="935.41" cy="926.28" r="2.2" fill="#30d040"/>
<circle cx="935.03" cy="924.12" r="2.4" fill="#2233cc"/>
<circle cx="1008.16" cy="925.7" r="2.2" fill="#30d040"/>
<circle cx="1010.07" cy="924.6" r="2.4" fill="#2233cc"/>
<ellipse cx="993.8" cy="935.7" rx="2.4" ry="3.0" transform="rotate(-35 994.3 936.2)" fill="#4a0a32"/>
<ellipse cx="994.9" cy="936.8" rx="2.4" ry="3.0" transform="rotate(-35 994.3 936.2)" fill="#6e1a4e"/>
<circle cx="937.2" cy="958.7" r="2.2" fill="#30d040"/>
<circle cx="937.2" cy="960.9" r="2.4" fill="#2233cc"/>
<circle cx="994.68" cy="980.41" r="2.2" fill="#30d040"/>
<circle cx="992.52" cy="980.03" r="2.4" fill="#2233cc"/>
<circle cx="1016.27" cy="994.58" r="2.2" fill="#30d040"/>
<circle cx="1014.86" cy="996.27" r="2.4" fill="#2233cc"/>
<path d="M999.3 936.7L1095.3 901.9" stroke="#000" stroke-width="1.2"/>
<text x="1097.5" y="909" font-size="25">N<tspan font-size="14">2</tspan></text>
<path d="M987.7 984.7L938.9 1031.9" stroke="#000" stroke-width="1.2"/>
<text x="920.5" y="1048.4" font-size="25">CO</text>
<rect x="885.2" y="752.4" width="621.6" height="500.1" fill="none" stroke="#000" stroke-width="1.7"/>
<path d="M885.2 1252.5v-9.5M941.68 1252.5v-5M998.16 1252.5v-9.5M1054.64 1252.5v-5M1111.12 1252.5v-9.5M1167.6 1252.5v-5M1224.08 1252.5v-9.5M1280.56 1252.5v-5M1337.04 1252.5v-9.5M1393.52 1252.5v-5M1450 1252.5v-9.5M885.2 1252.5h9.5M885.2 1202.5h5M885.2 1152.5h9.5M885.2 1102.5h5M885.2 1052.5h9.5M885.2 1002.5h5M885.2 952.5h9.5M885.2 902.5h5M885.2 852.5h9.5M885.2 802.5h5M885.2 752.5h9.5" stroke="#000" stroke-width="1.7" fill="none"/>
<text x="885.2" y="1279.5" text-anchor="middle" font-size="22">0</text>
<text x="998.16" y="1279.5" text-anchor="middle" font-size="22">2</text>
<text x="1111.12" y="1279.5" text-anchor="middle" font-size="22">4</text>
<text x="1224.08" y="1279.5" text-anchor="middle" font-size="22">6</text>
<text x="1337.04" y="1279.5" text-anchor="middle" font-size="22">8</text>
<text x="1450" y="1279.5" text-anchor="middle" font-size="22">10</text>
<text x="874.7" y="1259.3" text-anchor="end" font-size="22">0</text>
<text x="874.7" y="1159.3" text-anchor="end" font-size="22">4</text>
<text x="874.7" y="1059.3" text-anchor="end" font-size="22">8</text>
<text x="874.7" y="959.3" text-anchor="end" font-size="22">12</text>
<text x="874.7" y="859.3" text-anchor="end" font-size="22">16</text>
<text x="874.7" y="759.3" text-anchor="end" font-size="22">20</text>
<text x="1196" y="1319.7" text-anchor="middle" font-size="26">Pressure/MPa</text>
<text transform="translate(842.3 1002.45) rotate(-90) scale(1 1.05)" text-anchor="middle" font-size="26">Adsorption amount/mmol/g</text>
<text x="1057.6" y="782.4" font-size="26.2">CO:N<tspan font-size="17.4" dy="6.8">2</tspan><tspan dy="-6.8">=0.8:0.2 298.15K</tspan></text>
<rect x="941.4" y="795.9" width="10" height="9.8" fill="#515151" stroke="#404040" stroke-width="0.8"/>
<circle cx="946.6" cy="827.3" r="6.1" fill="#f4444a"/>
<path d="M1013 800.7H1056.3" stroke="#000" stroke-width="1.6"/>
<path d="M1011.3 827.1H1054.6" stroke="#f00" stroke-width="1.6"/>
<text x="972.6" y="808.2" font-size="21.3">CO</text>
<text x="1061" y="808.2" font-size="21.3">Fitted curve of CO by Langmuir equation</text>
<text x="972.9" y="835.1" font-size="21.3">N<tspan font-size="15" dy="5.4">2</tspan></text>
<text x="1059.7" y="835.1" font-size="21.3">Fitted curve of N<tspan font-size="15" dy="5.4">2</tspan><tspan dy="-5.4"> by Langmuir equation</tspan></text>
<rect x="885.95" y="1237.6" width="9.8" height="9.8" fill="#515151" stroke="#404040" stroke-width="0.8"/>
<rect x="936.78" y="1177.1" width="9.8" height="9.8" fill="#515151" stroke="#404040" stroke-width="0.8"/>
<rect x="993.26" y="1123.85" width="9.8" height="9.8" fill="#515151" stroke="#404040" stroke-width="0.8"/>
<rect x="1049.74" y="1075.6" width="9.8" height="9.8" fill="#515151" stroke="#404040" stroke-width="0.8"/>
<rect x="1106.22" y="1031.35" width="9.8" height="9.8" fill="#515151" stroke="#404040" stroke-width="0.8"/>
<rect x="1162.7" y="985.35" width="9.8" height="9.8" fill="#515151" stroke="#404040" stroke-width="0.8"/>
<rect x="1219.18" y="949.6" width="9.8" height="9.8" fill="#515151" stroke="#404040" stroke-width="0.8"/>
<rect x="1275.66" y="916.85" width="9.8" height="9.8" fill="#515151" stroke="#404040" stroke-width="0.8"/>
<rect x="1332.14" y="875.35" width="9.8" height="9.8" fill="#515151" stroke="#404040" stroke-width="0.8"/>
<rect x="1388.62" y="844.85" width="9.8" height="9.8" fill="#515151" stroke="#404040" stroke-width="0.8"/>
<rect x="1445.1" y="810.6" width="9.8" height="9.8" fill="#515151" stroke="#404040" stroke-width="0.8"/>
<circle cx="890.85" cy="1250" r="6" fill="#f4444a"/>
<circle cx="941.68" cy="1243" r="6" fill="#f4444a"/>
<circle cx="998.16" cy="1235.75" r="6" fill="#f4444a"/>
<circle cx="1054.64" cy="1229.75" r="6" fill="#f4444a"/>
<circle cx="1111.12" cy="1223.5" r="6" fill="#f4444a"/>
<circle cx="1167.6" cy="1217.25" r="6" fill="#f4444a"/>
<circle cx="1224.08" cy="1213" r="6" fill="#f4444a"/>
<circle cx="1280.56" cy="1206.5" r="6" fill="#f4444a"/>
<circle cx="1337.04" cy="1201.5" r="6" fill="#f4444a"/>
<circle cx="1393.52" cy="1197.25" r="6" fill="#f4444a"/>
<circle cx="1450" cy="1195" r="6" fill="#f4444a"/>
<polyline points="890.85,1242.46 895.55,1235.71 900.25,1229.44 904.94,1223.48 909.64,1217.75 914.34,1212.21 919.04,1206.81 923.74,1201.55 928.44,1196.39 933.14,1191.34 937.84,1186.38 942.53,1181.49 947.23,1176.69 951.93,1171.95 956.63,1167.27 961.33,1162.66 966.03,1158.1 970.73,1153.6 975.43,1149.14 980.12,1144.74 984.82,1140.37 989.52,1136.06 994.22,1131.78 998.92,1127.54 1003.62,1123.35 1008.32,1119.18 1013.02,1115.06 1017.71,1110.97 1022.41,1106.91 1027.11,1102.88 1031.81,1098.89 1036.51,1094.92 1041.21,1090.98 1045.91,1087.08 1050.61,1083.2 1055.3,1079.34 1060,1075.52 1064.7,1071.71 1069.4,1067.94 1074.1,1064.19 1078.8,1060.46 1083.5,1056.75 1088.2,1053.07 1092.89,1049.41 1097.59,1045.77 1102.29,1042.16 1106.99,1038.56 1111.69,1034.98 1116.39,1031.43 1121.09,1027.89 1125.79,1024.38 1130.48,1020.88 1135.18,1017.4 1139.88,1013.94 1144.58,1010.5 1149.28,1007.08 1153.98,1003.67 1158.68,1000.29 1163.38,996.91 1168.07,993.56 1172.77,990.22 1177.47,986.9 1182.17,983.59 1186.87,980.3 1191.57,977.03 1196.27,973.77 1200.97,970.52 1205.66,967.29 1210.36,964.08 1215.06,960.88 1219.76,957.69 1224.46,954.52 1229.16,951.37 1233.86,948.22 1238.56,945.09 1243.25,941.98 1247.95,938.87 1252.65,935.78 1257.35,932.71 1262.05,929.64 1266.75,926.59 1271.45,923.55 1276.15,920.53 1280.84,917.51 1285.54,914.51 1290.24,911.52 1294.94,908.54 1299.64,905.58 1304.34,902.62 1309.04,899.68 1313.74,896.75 1318.43,893.83 1323.13,890.92 1327.83,888.02 1332.53,885.13 1337.23,882.26 1341.93,879.39 1346.63,876.54 1351.33,873.69 1356.02,870.86 1360.72,868.04 1365.42,865.23 1370.12,862.42 1374.82,859.63 1379.52,856.85 1384.22,854.08 1388.92,851.31 1393.61,848.56 1398.31,845.82 1403.01,843.08 1407.71,840.36 1412.41,837.64 1417.11,834.94 1421.81,832.24 1426.51,829.56 1431.2,826.88 1435.9,824.21 1440.6,821.55 1445.3,818.9 1450,816.26" fill="none" stroke="#000" stroke-width="1.7" stroke-linejoin="round"/>
<polyline points="890.85,1251.23 895.55,1250.35 900.25,1249.52 904.94,1248.72 909.64,1247.96 914.34,1247.21 919.04,1246.49 923.74,1245.77 928.44,1245.08 933.14,1244.39 937.84,1243.72 942.53,1243.05 947.23,1242.4 951.93,1241.75 956.63,1241.12 961.33,1240.49 966.03,1239.87 970.73,1239.25 975.43,1238.64 980.12,1238.04 984.82,1237.44 989.52,1236.85 994.22,1236.27 998.92,1235.69 1003.62,1235.12 1008.32,1234.55 1013.02,1233.98 1017.71,1233.42 1022.41,1232.87 1027.11,1232.32 1031.81,1231.77 1036.51,1231.23 1041.21,1230.69 1045.91,1230.16 1050.61,1229.63 1055.3,1229.1 1060,1228.58 1064.7,1228.06 1069.4,1227.55 1074.1,1227.03 1078.8,1226.52 1083.5,1226.02 1088.2,1225.52 1092.89,1225.02 1097.59,1224.52 1102.29,1224.03 1106.99,1223.54 1111.69,1223.05 1116.39,1222.57 1121.09,1222.09 1125.79,1221.61 1130.48,1221.14 1135.18,1220.66 1139.88,1220.19 1144.58,1219.73 1149.28,1219.26 1153.98,1218.8 1158.68,1218.34 1163.38,1217.88 1168.07,1217.43 1172.77,1216.98 1177.47,1216.53 1182.17,1216.08 1186.87,1215.63 1191.57,1215.19 1196.27,1214.75 1200.97,1214.31 1205.66,1213.88 1210.36,1213.44 1215.06,1213.01 1219.76,1212.58 1224.46,1212.15 1229.16,1211.73 1233.86,1211.3 1238.56,1210.88 1243.25,1210.46 1247.95,1210.05 1252.65,1209.63 1257.35,1209.22 1262.05,1208.81 1266.75,1208.4 1271.45,1207.99 1276.15,1207.58 1280.84,1207.18 1285.54,1206.78 1290.24,1206.38 1294.94,1205.98 1299.64,1205.58 1304.34,1205.18 1309.04,1204.79 1313.74,1204.4 1318.43,1204.01 1323.13,1203.62 1327.83,1203.23 1332.53,1202.85 1337.23,1202.47 1341.93,1202.08 1346.63,1201.7 1351.33,1201.32 1356.02,1200.95 1360.72,1200.57 1365.42,1200.2 1370.12,1199.83 1374.82,1199.45 1379.52,1199.08 1384.22,1198.72 1388.92,1198.35 1393.61,1197.99 1398.31,1197.62 1403.01,1197.26 1407.71,1196.9 1412.41,1196.54 1417.11,1196.18 1421.81,1195.83 1426.51,1195.47 1431.2,1195.12 1435.9,1194.76 1440.6,1194.41 1445.3,1194.06 1450,1193.72" fill="none" stroke="#f00" stroke-width="1.7" stroke-linejoin="round"/>
</g>
<g font-family="TeX Gyre Cursor, FreeMono, Liberation Mono, Courier New, monospace" font-size="42" text-anchor="middle" style="font-size-adjust:cap-height 0.563">
<text x="945.66" y="1409.9">(</text>
<text x="969.33" y="1409.9">d</text>
<text x="995.33" y="1409.9">)</text>
<text x="1044.66" y="1409.9">C</text>
<text x="1068.8" y="1409.9">O</text>
<text x="1093.9" y="1409.9">:</text>
<text x="1143.14" y="1409.9">N</text>
<text x="1184.68" y="1409.9">=</text>
<text x="1209.5" y="1409.9">0</text>
<text x="1234.4" y="1409.9">.</text>
<text x="1257.6" y="1409.9">8</text>
<text x="1284" y="1409.9">:</text>
<text x="1333.3" y="1409.9">0</text>
<text x="1357.7" y="1409.9">.</text>
<text x="1383" y="1409.9">2</text>
<text x="1164.32" y="1414.4" font-size="27.5">2</text>
</g>
</svg>
</body></html>
